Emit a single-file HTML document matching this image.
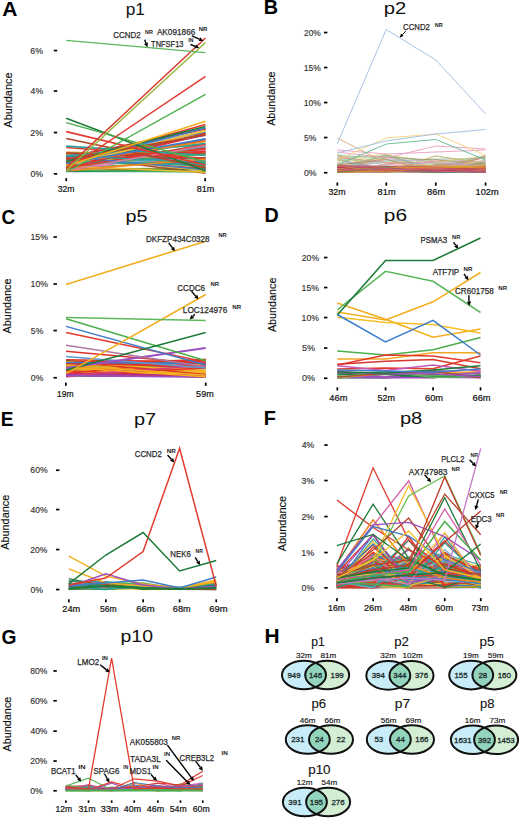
<!DOCTYPE html>
<html><head><meta charset="utf-8"><style>
html,body{margin:0;padding:0;background:#fff;width:520px;height:818px;overflow:hidden}
svg{display:block}
text{font-family:"Liberation Sans",sans-serif}
</style></head><body>
<svg width="520" height="818" viewBox="0 0 520 818" font-family="'Liberation Sans', sans-serif">
<text x="2.38" y="15.60" font-size="19.5" fill="#000" font-weight="bold" textLength="15.18" lengthAdjust="spacingAndGlyphs">A</text>
<text x="125.79" y="15.10" font-size="17.3" fill="#111" textLength="19.15" lengthAdjust="spacingAndGlyphs">p1</text>
<text x="11.76" y="127.62" font-size="11.3" fill="#111" stroke="#111" stroke-width="0.15" textLength="55.11" lengthAdjust="spacingAndGlyphs" transform="rotate(-90 11.76 127.62)">Abundance</text>
<text x="30.35" y="53.50" font-size="8.4" fill="#333" stroke="#333" stroke-width="0.15" textLength="12.76" lengthAdjust="spacingAndGlyphs">6%</text>
<rect x="53.80" y="49.70" width="3.40" height="1.70" fill="#000"/>
<text x="30.60" y="94.00" font-size="8.4" fill="#333" stroke="#333" stroke-width="0.15" textLength="12.51" lengthAdjust="spacingAndGlyphs">4%</text>
<rect x="53.80" y="90.20" width="3.40" height="1.70" fill="#000"/>
<text x="30.36" y="135.50" font-size="8.4" fill="#333" stroke="#333" stroke-width="0.15" textLength="12.76" lengthAdjust="spacingAndGlyphs">2%</text>
<rect x="53.80" y="131.70" width="3.40" height="1.70" fill="#000"/>
<text x="30.46" y="176.80" font-size="8.4" fill="#333" stroke="#333" stroke-width="0.15" textLength="12.65" lengthAdjust="spacingAndGlyphs">0%</text>
<rect x="53.80" y="173.00" width="3.40" height="1.70" fill="#000"/>
<rect x="65.40" y="178.10" width="1.70" height="3.10" fill="#000"/>
<text x="57.72" y="192.30" font-size="8.5" fill="#111" stroke="#111" stroke-width="0.2" textLength="16.80" lengthAdjust="spacingAndGlyphs">32m</text>
<rect x="204.30" y="178.10" width="1.70" height="3.10" fill="#000"/>
<text x="196.71" y="192.30" font-size="8.5" fill="#111" stroke="#111" stroke-width="0.2" textLength="17.59" lengthAdjust="spacingAndGlyphs">81m</text>
<polyline points="66.2,165.7 205.5,149.6" stroke="#e0332b" stroke-width="1.6" fill="none" stroke-linejoin="miter" stroke-opacity="0.95"/>
<polyline points="66.2,155.7 205.5,153.4" stroke="#a0522d" stroke-width="1.6" fill="none" stroke-linejoin="miter" stroke-opacity="0.95"/>
<polyline points="66.2,168.0 205.5,161.4" stroke="#2aa198" stroke-width="1.6" fill="none" stroke-linejoin="miter" stroke-opacity="0.95"/>
<polyline points="66.2,170.7 205.5,139.0" stroke="#c0392b" stroke-width="1.6" fill="none" stroke-linejoin="miter" stroke-opacity="0.95"/>
<polyline points="66.2,153.2 205.5,153.4" stroke="#e0332b" stroke-width="1.6" fill="none" stroke-linejoin="miter" stroke-opacity="0.95"/>
<polyline points="66.2,160.6 205.5,128.8" stroke="#e0332b" stroke-width="1.6" fill="none" stroke-linejoin="miter" stroke-opacity="0.95"/>
<polyline points="66.2,161.0 205.5,161.4" stroke="#c0392b" stroke-width="1.6" fill="none" stroke-linejoin="miter" stroke-opacity="0.95"/>
<polyline points="66.2,160.7 205.5,147.8" stroke="#c0392b" stroke-width="1.6" fill="none" stroke-linejoin="miter" stroke-opacity="0.95"/>
<polyline points="66.2,160.5 205.5,163.4" stroke="#e0332b" stroke-width="1.6" fill="none" stroke-linejoin="miter" stroke-opacity="0.95"/>
<polyline points="66.2,160.8 205.5,157.8" stroke="#9c4fc0" stroke-width="1.6" fill="none" stroke-linejoin="miter" stroke-opacity="0.95"/>
<polyline points="66.2,156.6 205.5,132.5" stroke="#3d7cc9" stroke-width="1.6" fill="none" stroke-linejoin="miter" stroke-opacity="0.95"/>
<polyline points="66.2,166.2 205.5,146.8" stroke="#2aa198" stroke-width="1.6" fill="none" stroke-linejoin="miter" stroke-opacity="0.95"/>
<polyline points="66.2,170.9 205.5,157.8" stroke="#f08a1c" stroke-width="1.6" fill="none" stroke-linejoin="miter" stroke-opacity="0.95"/>
<polyline points="66.2,157.5 205.5,128.6" stroke="#c0392b" stroke-width="1.6" fill="none" stroke-linejoin="miter" stroke-opacity="0.95"/>
<polyline points="66.2,161.9 205.5,164.6" stroke="#8a9a3a" stroke-width="1.6" fill="none" stroke-linejoin="miter" stroke-opacity="0.95"/>
<polyline points="66.2,152.3 205.5,154.7" stroke="#f08a1c" stroke-width="1.6" fill="none" stroke-linejoin="miter" stroke-opacity="0.95"/>
<polyline points="66.2,165.4 205.5,157.8" stroke="#e07aa8" stroke-width="1.6" fill="none" stroke-linejoin="miter" stroke-opacity="0.95"/>
<polyline points="66.2,171.2 205.5,167.3" stroke="#e0332b" stroke-width="1.6" fill="none" stroke-linejoin="miter" stroke-opacity="0.95"/>
<polyline points="66.2,171.3 205.5,149.8" stroke="#e07aa8" stroke-width="1.6" fill="none" stroke-linejoin="miter" stroke-opacity="0.95"/>
<polyline points="66.2,166.5 205.5,148.6" stroke="#e0332b" stroke-width="1.6" fill="none" stroke-linejoin="miter" stroke-opacity="0.95"/>
<polyline points="66.2,153.4 205.5,151.8" stroke="#8a9a3a" stroke-width="1.6" fill="none" stroke-linejoin="miter" stroke-opacity="0.95"/>
<polyline points="66.2,171.4 205.5,171.4" stroke="#2aa198" stroke-width="1.6" fill="none" stroke-linejoin="miter" stroke-opacity="0.95"/>
<polyline points="66.2,164.2 205.5,157.8" stroke="#1e7b3a" stroke-width="1.6" fill="none" stroke-linejoin="miter" stroke-opacity="0.95"/>
<polyline points="66.2,163.2 205.5,135.2" stroke="#9c4fc0" stroke-width="1.6" fill="none" stroke-linejoin="miter" stroke-opacity="0.95"/>
<polyline points="66.2,154.9 205.5,161.5" stroke="#3d7cc9" stroke-width="1.6" fill="none" stroke-linejoin="miter" stroke-opacity="0.95"/>
<polyline points="66.2,158.5 205.5,168.6" stroke="#e0332b" stroke-width="1.6" fill="none" stroke-linejoin="miter" stroke-opacity="0.95"/>
<polyline points="66.2,168.8 205.5,168.5" stroke="#8a9a3a" stroke-width="1.6" fill="none" stroke-linejoin="miter" stroke-opacity="0.95"/>
<polyline points="66.2,155.5 205.5,166.9" stroke="#4cae4c" stroke-width="1.6" fill="none" stroke-linejoin="miter" stroke-opacity="0.95"/>
<polyline points="66.2,163.8 205.5,154.2" stroke="#4cae4c" stroke-width="1.6" fill="none" stroke-linejoin="miter" stroke-opacity="0.95"/>
<polyline points="66.2,158.3 205.5,151.5" stroke="#e0332b" stroke-width="1.6" fill="none" stroke-linejoin="miter" stroke-opacity="0.95"/>
<polyline points="66.2,163.0 205.5,130.6" stroke="#7fb2e0" stroke-width="1.6" fill="none" stroke-linejoin="miter" stroke-opacity="0.95"/>
<polyline points="66.2,164.2 205.5,158.5" stroke="#7fb2e0" stroke-width="1.6" fill="none" stroke-linejoin="miter" stroke-opacity="0.95"/>
<polyline points="66.2,171.3 205.5,169.3" stroke="#1e7b3a" stroke-width="1.6" fill="none" stroke-linejoin="miter" stroke-opacity="0.95"/>
<polyline points="66.2,170.2 205.5,172.0" stroke="#4cae4c" stroke-width="1.6" fill="none" stroke-linejoin="miter" stroke-opacity="0.95"/>
<polyline points="66.2,161.4 205.5,151.7" stroke="#e0332b" stroke-width="1.6" fill="none" stroke-linejoin="miter" stroke-opacity="0.95"/>
<polyline points="66.2,154.7 205.5,171.0" stroke="#f2c12e" stroke-width="1.6" fill="none" stroke-linejoin="miter" stroke-opacity="0.95"/>
<polyline points="66.2,153.1 205.5,158.8" stroke="#c0392b" stroke-width="1.6" fill="none" stroke-linejoin="miter" stroke-opacity="0.95"/>
<polyline points="66.2,147.5 205.5,158.4" stroke="#e0332b" stroke-width="1.6" fill="none" stroke-linejoin="miter" stroke-opacity="0.95"/>
<polyline points="66.2,169.5 205.5,144.4" stroke="#8a9a3a" stroke-width="1.6" fill="none" stroke-linejoin="miter" stroke-opacity="0.95"/>
<polyline points="66.2,155.6 205.5,173.3" stroke="#a0522d" stroke-width="1.6" fill="none" stroke-linejoin="miter" stroke-opacity="0.95"/>
<polyline points="66.2,165.0 205.5,133.2" stroke="#a0522d" stroke-width="1.6" fill="none" stroke-linejoin="miter" stroke-opacity="0.95"/>
<polyline points="66.2,166.3 205.5,172.3" stroke="#f2c12e" stroke-width="1.6" fill="none" stroke-linejoin="miter" stroke-opacity="0.95"/>
<polyline points="66.2,161.8 205.5,164.1" stroke="#2aa198" stroke-width="1.6" fill="none" stroke-linejoin="miter" stroke-opacity="0.95"/>
<polyline points="66.2,161.5 205.5,165.1" stroke="#2aa198" stroke-width="1.6" fill="none" stroke-linejoin="miter" stroke-opacity="0.95"/>
<polyline points="66.2,159.9 205.5,143.3" stroke="#2aa198" stroke-width="1.6" fill="none" stroke-linejoin="miter" stroke-opacity="0.95"/>
<polyline points="66.2,156.0 205.5,144.4" stroke="#2aa198" stroke-width="1.6" fill="none" stroke-linejoin="miter" stroke-opacity="0.95"/>
<polyline points="66.2,168.3 205.5,144.9" stroke="#e0332b" stroke-width="1.6" fill="none" stroke-linejoin="miter" stroke-opacity="0.95"/>
<polyline points="66.2,156.3 205.5,169.8" stroke="#3d7cc9" stroke-width="1.6" fill="none" stroke-linejoin="miter" stroke-opacity="0.95"/>
<polyline points="66.2,163.2 205.5,128.0" stroke="#3d7cc9" stroke-width="1.6" fill="none" stroke-linejoin="miter" stroke-opacity="0.95"/>
<polyline points="66.2,170.9 205.5,159.0" stroke="#f08a1c" stroke-width="1.6" fill="none" stroke-linejoin="miter" stroke-opacity="0.95"/>
<polyline points="66.2,168.2 205.5,134.1" stroke="#e0332b" stroke-width="1.6" fill="none" stroke-linejoin="miter" stroke-opacity="0.95"/>
<polyline points="66.2,162.6 205.5,140.7" stroke="#e0332b" stroke-width="1.6" fill="none" stroke-linejoin="miter" stroke-opacity="0.95"/>
<polyline points="66.2,155.5 205.5,162.7" stroke="#2aa198" stroke-width="1.6" fill="none" stroke-linejoin="miter" stroke-opacity="0.95"/>
<polyline points="66.2,162.6 205.5,141.4" stroke="#f08a1c" stroke-width="1.6" fill="none" stroke-linejoin="miter" stroke-opacity="0.95"/>
<polyline points="66.2,170.8 205.5,145.5" stroke="#e07aa8" stroke-width="1.6" fill="none" stroke-linejoin="miter" stroke-opacity="0.95"/>
<polyline points="66.2,138.5 205.5,167.6" stroke="#b5462c" stroke-width="1.7" fill="none" stroke-linejoin="miter"/>
<polyline points="66.2,146.1 205.5,155.3" stroke="#2aa198" stroke-width="1.7" fill="none" stroke-linejoin="miter"/>
<polyline points="66.2,163.5 205.5,124.5" stroke="#e0332b" stroke-width="1.7" fill="none" stroke-linejoin="miter"/>
<polyline points="66.2,161.5 205.5,126.5" stroke="#1e7b3a" stroke-width="1.7" fill="none" stroke-linejoin="miter"/>
<polyline points="66.2,165.6 205.5,130.6" stroke="#f2c12e" stroke-width="1.7" fill="none" stroke-linejoin="miter"/>
<polyline points="66.2,159.4 205.5,134.8" stroke="#b5462c" stroke-width="1.7" fill="none" stroke-linejoin="miter"/>
<polyline points="66.2,163.5 205.5,138.9" stroke="#3d7cc9" stroke-width="1.7" fill="none" stroke-linejoin="miter"/>
<polyline points="66.2,118.2 205.5,171.0" stroke="#1e7b3a" stroke-width="1.6" fill="none" stroke-linejoin="miter"/>
<polyline points="66.2,122.7 205.5,162.0" stroke="#4cae4c" stroke-width="1.4" fill="none" stroke-linejoin="miter"/>
<polyline points="66.2,131.6 205.5,165.0" stroke="#e23b2e" stroke-width="1.6" fill="none" stroke-linejoin="miter"/>
<polyline points="66.2,170.0 205.5,76.4" stroke="#e23b2e" stroke-width="1.5" fill="none" stroke-linejoin="miter"/>
<polyline points="66.2,172.0 205.5,94.3" stroke="#4cae4c" stroke-width="1.4" fill="none" stroke-linejoin="miter"/>
<polyline points="66.2,166.0 205.5,121.2" stroke="#f2ae1c" stroke-width="1.5" fill="none" stroke-linejoin="miter"/>
<polyline points="66.2,168.0 205.5,38.0" stroke="#d9372c" stroke-width="1.5" fill="none" stroke-linejoin="miter"/>
<polyline points="66.2,170.5 205.5,42.5" stroke="#9bb53a" stroke-width="1.5" fill="none" stroke-linejoin="miter"/>
<polyline points="66.2,40.4 205.5,52.6" stroke="#5cb85c" stroke-width="1.4" fill="none" stroke-linejoin="miter"/>
<text x="113.35" y="37.55" font-size="8.7" fill="#2a2a2a" stroke="#2a2a2a" stroke-width="0.25" textLength="27.30" lengthAdjust="spacingAndGlyphs">CCND2</text>
<text x="145.04" y="34.10" font-size="5.9" fill="#222" font-weight="bold" textLength="7.88" lengthAdjust="spacingAndGlyphs">NR</text>
<text x="156.88" y="35.05" font-size="8.7" fill="#2a2a2a" stroke="#2a2a2a" stroke-width="0.25" textLength="38.48" lengthAdjust="spacingAndGlyphs">AK091866</text>
<text x="198.80" y="30.80" font-size="5.9" fill="#222" font-weight="bold" textLength="8.62" lengthAdjust="spacingAndGlyphs">NR</text>
<text x="151.08" y="46.90" font-size="8.7" fill="#2a2a2a" stroke="#2a2a2a" stroke-width="0.25" textLength="32.40" lengthAdjust="spacingAndGlyphs">TNFSF13</text>
<text x="188.35" y="42.40" font-size="5.9" fill="#222" font-weight="bold" textLength="5.20" lengthAdjust="spacingAndGlyphs">IN</text>
<line x1="144.70" y1="39.80" x2="145.96" y2="43.25" stroke="#000" stroke-width="1.4"/>
<polygon points="147.40,47.20 143.99,43.97 147.93,42.53" fill="#000"/>
<line x1="191.80" y1="35.80" x2="199.46" y2="39.20" stroke="#000" stroke-width="1.4"/>
<polygon points="203.30,40.90 198.61,41.12 200.31,37.28" fill="#000"/>
<line x1="190.50" y1="44.50" x2="195.29" y2="46.37" stroke="#000" stroke-width="1.4"/>
<polygon points="199.20,47.90 194.52,48.33 196.05,44.42" fill="#000"/>
<text x="263.87" y="14.10" font-size="19.5" fill="#000" font-weight="bold" textLength="14.33" lengthAdjust="spacingAndGlyphs">B</text>
<text x="383.79" y="14.10" font-size="17.3" fill="#111" textLength="22.52" lengthAdjust="spacingAndGlyphs">p2</text>
<text x="275.46" y="125.82" font-size="11.3" fill="#111" stroke="#111" stroke-width="0.15" textLength="54.30" lengthAdjust="spacingAndGlyphs" transform="rotate(-90 275.46 125.82)">Abundance</text>
<text x="303.98" y="35.50" font-size="8.4" fill="#333" stroke="#333" stroke-width="0.15" textLength="16.82" lengthAdjust="spacingAndGlyphs">20%</text>
<rect x="324.00" y="31.70" width="3.40" height="1.70" fill="#000"/>
<text x="303.75" y="70.50" font-size="8.4" fill="#333" stroke="#333" stroke-width="0.15" textLength="17.05" lengthAdjust="spacingAndGlyphs">15%</text>
<rect x="324.00" y="66.70" width="3.40" height="1.70" fill="#000"/>
<text x="303.75" y="105.50" font-size="8.4" fill="#333" stroke="#333" stroke-width="0.15" textLength="17.05" lengthAdjust="spacingAndGlyphs">10%</text>
<rect x="324.00" y="101.70" width="3.40" height="1.70" fill="#000"/>
<text x="304.06" y="140.50" font-size="8.4" fill="#333" stroke="#333" stroke-width="0.15" textLength="12.35" lengthAdjust="spacingAndGlyphs">5%</text>
<rect x="324.00" y="136.70" width="3.40" height="1.70" fill="#000"/>
<text x="304.06" y="175.70" font-size="8.4" fill="#333" stroke="#333" stroke-width="0.15" textLength="12.55" lengthAdjust="spacingAndGlyphs">0%</text>
<rect x="324.00" y="171.90" width="3.40" height="1.70" fill="#000"/>
<rect x="336.50" y="182.50" width="1.70" height="3.20" fill="#000"/>
<text x="328.46" y="195.30" font-size="8.5" fill="#111" stroke="#111" stroke-width="0.2" textLength="17.12" lengthAdjust="spacingAndGlyphs">32m</text>
<rect x="385.45" y="182.50" width="1.70" height="3.20" fill="#000"/>
<text x="377.60" y="195.30" font-size="8.5" fill="#111" stroke="#111" stroke-width="0.2" textLength="18.01" lengthAdjust="spacingAndGlyphs">81m</text>
<rect x="434.95" y="182.50" width="1.70" height="3.20" fill="#000"/>
<text x="427.10" y="195.30" font-size="8.5" fill="#111" stroke="#111" stroke-width="0.2" textLength="18.01" lengthAdjust="spacingAndGlyphs">86m</text>
<rect x="484.70" y="182.50" width="1.70" height="3.20" fill="#000"/>
<text x="475.55" y="195.30" font-size="8.5" fill="#111" stroke="#111" stroke-width="0.2" textLength="23.01" lengthAdjust="spacingAndGlyphs">102m</text>
<polyline points="337.3,168.1 386.2,155.7 435.8,161.5 485.5,171.3" stroke="#f5c85a" stroke-width="0.8" fill="none" stroke-linejoin="miter" stroke-opacity="0.75"/>
<polyline points="337.3,172.3 386.2,164.5 435.8,167.0 485.5,163.1" stroke="#e06a6a" stroke-width="0.8" fill="none" stroke-linejoin="miter" stroke-opacity="0.75"/>
<polyline points="337.3,158.9 386.2,154.7 435.8,163.1 485.5,169.0" stroke="#c9c96a" stroke-width="0.8" fill="none" stroke-linejoin="miter" stroke-opacity="0.75"/>
<polyline points="337.3,165.4 386.2,172.3 435.8,159.6 485.5,161.4" stroke="#e98cb8" stroke-width="0.8" fill="none" stroke-linejoin="miter" stroke-opacity="0.75"/>
<polyline points="337.3,165.8 386.2,156.0 435.8,167.6 485.5,157.7" stroke="#f7b27a" stroke-width="0.8" fill="none" stroke-linejoin="miter" stroke-opacity="0.75"/>
<polyline points="337.3,172.3 386.2,170.8 435.8,166.3 485.5,160.5" stroke="#8cb4dc" stroke-width="0.8" fill="none" stroke-linejoin="miter" stroke-opacity="0.75"/>
<polyline points="337.3,170.2 386.2,167.8 435.8,171.6 485.5,156.7" stroke="#8cb4dc" stroke-width="0.8" fill="none" stroke-linejoin="miter" stroke-opacity="0.75"/>
<polyline points="337.3,157.0 386.2,162.9 435.8,159.2 485.5,166.0" stroke="#c9c96a" stroke-width="0.8" fill="none" stroke-linejoin="miter" stroke-opacity="0.75"/>
<polyline points="337.3,171.6 386.2,171.5 435.8,166.1 485.5,157.7" stroke="#a08050" stroke-width="0.8" fill="none" stroke-linejoin="miter" stroke-opacity="0.75"/>
<polyline points="337.3,171.1 386.2,172.3 435.8,159.6 485.5,171.3" stroke="#e8b0a0" stroke-width="0.8" fill="none" stroke-linejoin="miter" stroke-opacity="0.75"/>
<polyline points="337.3,163.9 386.2,171.7 435.8,172.1 485.5,162.5" stroke="#c9c96a" stroke-width="0.8" fill="none" stroke-linejoin="miter" stroke-opacity="0.75"/>
<polyline points="337.3,165.2 386.2,160.0 435.8,171.8 485.5,165.1" stroke="#f7b27a" stroke-width="0.8" fill="none" stroke-linejoin="miter" stroke-opacity="0.75"/>
<polyline points="337.3,171.1 386.2,172.2 435.8,171.9 485.5,167.2" stroke="#f08a8a" stroke-width="0.8" fill="none" stroke-linejoin="miter" stroke-opacity="0.75"/>
<polyline points="337.3,160.6 386.2,156.6 435.8,167.4 485.5,164.0" stroke="#c9c96a" stroke-width="0.8" fill="none" stroke-linejoin="miter" stroke-opacity="0.75"/>
<polyline points="337.3,164.2 386.2,171.0 435.8,170.0 485.5,166.2" stroke="#a08050" stroke-width="0.8" fill="none" stroke-linejoin="miter" stroke-opacity="0.75"/>
<polyline points="337.3,166.8 386.2,155.8 435.8,162.1 485.5,157.6" stroke="#8cc98c" stroke-width="0.8" fill="none" stroke-linejoin="miter" stroke-opacity="0.75"/>
<polyline points="337.3,156.3 386.2,157.2 435.8,170.9 485.5,167.3" stroke="#b8a0d8" stroke-width="0.8" fill="none" stroke-linejoin="miter" stroke-opacity="0.75"/>
<polyline points="337.3,171.7 386.2,167.4 435.8,172.1 485.5,170.5" stroke="#e98cb8" stroke-width="0.8" fill="none" stroke-linejoin="miter" stroke-opacity="0.75"/>
<polyline points="337.3,170.8 386.2,169.7 435.8,171.7 485.5,160.2" stroke="#d4a0c8" stroke-width="0.8" fill="none" stroke-linejoin="miter" stroke-opacity="0.75"/>
<polyline points="337.3,163.4 386.2,168.7 435.8,170.3 485.5,171.6" stroke="#e8b0a0" stroke-width="0.8" fill="none" stroke-linejoin="miter" stroke-opacity="0.75"/>
<polyline points="337.3,170.7 386.2,155.5 435.8,168.2 485.5,166.6" stroke="#6ab5a5" stroke-width="0.8" fill="none" stroke-linejoin="miter" stroke-opacity="0.75"/>
<polyline points="337.3,158.8 386.2,171.4 435.8,167.6 485.5,166.0" stroke="#8cb4dc" stroke-width="0.8" fill="none" stroke-linejoin="miter" stroke-opacity="0.75"/>
<polyline points="337.3,167.8 386.2,168.9 435.8,171.9 485.5,168.7" stroke="#8cb4dc" stroke-width="0.8" fill="none" stroke-linejoin="miter" stroke-opacity="0.75"/>
<polyline points="337.3,165.3 386.2,167.4 435.8,172.3 485.5,169.2" stroke="#e06a6a" stroke-width="0.8" fill="none" stroke-linejoin="miter" stroke-opacity="0.75"/>
<polyline points="337.3,169.8 386.2,155.3 435.8,171.8 485.5,156.5" stroke="#f7b27a" stroke-width="0.8" fill="none" stroke-linejoin="miter" stroke-opacity="0.75"/>
<polyline points="337.3,155.0 386.2,171.9 435.8,170.2 485.5,172.2" stroke="#a08050" stroke-width="0.8" fill="none" stroke-linejoin="miter" stroke-opacity="0.75"/>
<polyline points="337.3,171.2 386.2,160.7 435.8,159.1 485.5,158.3" stroke="#6ab5a5" stroke-width="0.8" fill="none" stroke-linejoin="miter" stroke-opacity="0.75"/>
<polyline points="337.3,159.1 386.2,170.3 435.8,171.5 485.5,156.4" stroke="#e06a6a" stroke-width="0.8" fill="none" stroke-linejoin="miter" stroke-opacity="0.75"/>
<polyline points="337.3,166.4 386.2,169.3 435.8,170.0 485.5,159.6" stroke="#f5c85a" stroke-width="0.8" fill="none" stroke-linejoin="miter" stroke-opacity="0.75"/>
<polyline points="337.3,167.7 386.2,172.1 435.8,155.9 485.5,163.6" stroke="#a08050" stroke-width="0.8" fill="none" stroke-linejoin="miter" stroke-opacity="0.75"/>
<polyline points="337.3,170.2 386.2,164.1 435.8,170.7 485.5,170.2" stroke="#e98cb8" stroke-width="0.8" fill="none" stroke-linejoin="miter" stroke-opacity="0.75"/>
<polyline points="337.3,167.2 386.2,169.1 435.8,165.3 485.5,156.2" stroke="#8cc98c" stroke-width="0.8" fill="none" stroke-linejoin="miter" stroke-opacity="0.75"/>
<polyline points="337.3,163.8 386.2,172.2 435.8,161.8 485.5,155.9" stroke="#f5c85a" stroke-width="0.8" fill="none" stroke-linejoin="miter" stroke-opacity="0.75"/>
<polyline points="337.3,170.2 386.2,171.2 435.8,156.1 485.5,163.7" stroke="#c9c96a" stroke-width="0.8" fill="none" stroke-linejoin="miter" stroke-opacity="0.75"/>
<polyline points="337.3,160.6 386.2,169.8 435.8,166.3 485.5,171.2" stroke="#8cb4dc" stroke-width="0.8" fill="none" stroke-linejoin="miter" stroke-opacity="0.75"/>
<polyline points="337.3,159.5 386.2,154.3 435.8,172.3 485.5,172.3" stroke="#c9c96a" stroke-width="0.8" fill="none" stroke-linejoin="miter" stroke-opacity="0.75"/>
<polyline points="337.3,165.3 386.2,171.1 435.8,166.8 485.5,156.0" stroke="#e98cb8" stroke-width="0.8" fill="none" stroke-linejoin="miter" stroke-opacity="0.75"/>
<polyline points="337.3,163.0 386.2,163.2 435.8,163.1 485.5,165.4" stroke="#b8a0d8" stroke-width="0.8" fill="none" stroke-linejoin="miter" stroke-opacity="0.75"/>
<polyline points="337.3,155.0 386.2,169.6 435.8,170.8 485.5,170.6" stroke="#f7b27a" stroke-width="0.8" fill="none" stroke-linejoin="miter" stroke-opacity="0.75"/>
<polyline points="337.3,158.8 386.2,161.9 435.8,163.5 485.5,168.1" stroke="#8cb4dc" stroke-width="0.8" fill="none" stroke-linejoin="miter" stroke-opacity="0.75"/>
<polyline points="337.3,154.7 386.2,158.7 435.8,172.3 485.5,163.8" stroke="#8cc98c" stroke-width="0.8" fill="none" stroke-linejoin="miter" stroke-opacity="0.75"/>
<polyline points="337.3,167.6 386.2,172.2 435.8,162.9 485.5,168.5" stroke="#c9c96a" stroke-width="0.8" fill="none" stroke-linejoin="miter" stroke-opacity="0.75"/>
<polyline points="337.3,162.7 386.2,169.9 435.8,170.5 485.5,169.8" stroke="#e8b0a0" stroke-width="0.8" fill="none" stroke-linejoin="miter" stroke-opacity="0.75"/>
<polyline points="337.3,171.1 386.2,170.1 435.8,172.3 485.5,168.7" stroke="#8cb4dc" stroke-width="0.8" fill="none" stroke-linejoin="miter" stroke-opacity="0.75"/>
<polyline points="337.3,154.9 386.2,165.4 435.8,170.4 485.5,155.1" stroke="#8cc98c" stroke-width="0.8" fill="none" stroke-linejoin="miter" stroke-opacity="0.75"/>
<polyline points="337.3,170.8 386.2,171.1 435.8,169.2 485.5,172.0" stroke="#8cc98c" stroke-width="0.8" fill="none" stroke-linejoin="miter" stroke-opacity="0.75"/>
<polyline points="337.3,166.3 386.2,171.0 435.8,166.3 485.5,172.3" stroke="#8cc98c" stroke-width="0.8" fill="none" stroke-linejoin="miter" stroke-opacity="0.75"/>
<polyline points="337.3,159.2 386.2,171.5 435.8,164.6 485.5,168.2" stroke="#8cc98c" stroke-width="0.8" fill="none" stroke-linejoin="miter" stroke-opacity="0.75"/>
<polyline points="337.3,169.6 386.2,170.6 435.8,164.6 485.5,165.8" stroke="#a08050" stroke-width="0.8" fill="none" stroke-linejoin="miter" stroke-opacity="0.75"/>
<polyline points="337.3,171.4 386.2,157.2 435.8,160.0 485.5,164.4" stroke="#a08050" stroke-width="0.8" fill="none" stroke-linejoin="miter" stroke-opacity="0.75"/>
<polyline points="337.3,169.3 386.2,154.6 435.8,171.5 485.5,161.5" stroke="#6ab5a5" stroke-width="0.8" fill="none" stroke-linejoin="miter" stroke-opacity="0.75"/>
<polyline points="337.3,171.5 386.2,159.0 435.8,161.7 485.5,166.1" stroke="#b8a0d8" stroke-width="0.8" fill="none" stroke-linejoin="miter" stroke-opacity="0.75"/>
<polyline points="337.3,161.3 386.2,159.3 435.8,171.6 485.5,165.9" stroke="#c9c96a" stroke-width="0.8" fill="none" stroke-linejoin="miter" stroke-opacity="0.75"/>
<polyline points="337.3,165.0 386.2,159.3 435.8,172.3 485.5,162.4" stroke="#a08050" stroke-width="0.8" fill="none" stroke-linejoin="miter" stroke-opacity="0.75"/>
<polyline points="337.3,157.2 386.2,162.5 435.8,162.2 485.5,170.6" stroke="#f08a8a" stroke-width="0.8" fill="none" stroke-linejoin="miter" stroke-opacity="0.75"/>
<polyline points="337.3,172.4 386.2,168.7 435.8,165.9 485.5,170.6" stroke="#e0a020" stroke-width="0.9" fill="none" stroke-linejoin="miter" stroke-opacity="0.8"/>
<polyline points="337.3,169.3 386.2,168.7 435.8,168.8 485.5,168.3" stroke="#e0a020" stroke-width="0.9" fill="none" stroke-linejoin="miter" stroke-opacity="0.8"/>
<polyline points="337.3,171.3 386.2,170.0 435.8,172.3 485.5,166.2" stroke="#8a6a9a" stroke-width="0.9" fill="none" stroke-linejoin="miter" stroke-opacity="0.8"/>
<polyline points="337.3,172.2 386.2,169.5 435.8,167.8 485.5,169.9" stroke="#9a8a3a" stroke-width="0.9" fill="none" stroke-linejoin="miter" stroke-opacity="0.8"/>
<polyline points="337.3,166.9 386.2,171.5 435.8,167.7 485.5,171.5" stroke="#c03040" stroke-width="0.9" fill="none" stroke-linejoin="miter" stroke-opacity="0.8"/>
<polyline points="337.3,165.8 386.2,169.8 435.8,170.6 485.5,169.9" stroke="#c03040" stroke-width="0.9" fill="none" stroke-linejoin="miter" stroke-opacity="0.8"/>
<polyline points="337.3,171.2 386.2,172.4 435.8,168.7 485.5,171.7" stroke="#4a8a6a" stroke-width="0.9" fill="none" stroke-linejoin="miter" stroke-opacity="0.8"/>
<polyline points="337.3,172.0 386.2,171.4 435.8,167.8 485.5,171.1" stroke="#4a8a6a" stroke-width="0.9" fill="none" stroke-linejoin="miter" stroke-opacity="0.8"/>
<polyline points="337.3,172.0 386.2,169.8 435.8,169.8 485.5,165.8" stroke="#9a8a3a" stroke-width="0.9" fill="none" stroke-linejoin="miter" stroke-opacity="0.8"/>
<polyline points="337.3,168.2 386.2,168.4 435.8,171.2 485.5,169.6" stroke="#e0a020" stroke-width="0.9" fill="none" stroke-linejoin="miter" stroke-opacity="0.8"/>
<polyline points="337.3,170.0 386.2,167.6 435.8,165.6 485.5,169.3" stroke="#d05080" stroke-width="0.9" fill="none" stroke-linejoin="miter" stroke-opacity="0.8"/>
<polyline points="337.3,165.8 386.2,166.1 435.8,172.5 485.5,170.0" stroke="#8a6a9a" stroke-width="0.9" fill="none" stroke-linejoin="miter" stroke-opacity="0.8"/>
<polyline points="337.3,165.8 386.2,170.1 435.8,171.3 485.5,171.6" stroke="#e07030" stroke-width="0.9" fill="none" stroke-linejoin="miter" stroke-opacity="0.8"/>
<polyline points="337.3,172.3 386.2,172.3 435.8,167.8 485.5,171.3" stroke="#e07090" stroke-width="0.9" fill="none" stroke-linejoin="miter" stroke-opacity="0.8"/>
<polyline points="337.3,172.1 386.2,167.1 435.8,169.7 485.5,166.6" stroke="#d86a8a" stroke-width="0.9" fill="none" stroke-linejoin="miter" stroke-opacity="0.8"/>
<polyline points="337.3,170.7 386.2,169.7 435.8,166.7 485.5,170.5" stroke="#a0522d" stroke-width="0.9" fill="none" stroke-linejoin="miter" stroke-opacity="0.8"/>
<polyline points="337.3,172.6 386.2,169.8 435.8,170.1 485.5,171.1" stroke="#a0522d" stroke-width="0.9" fill="none" stroke-linejoin="miter" stroke-opacity="0.8"/>
<polyline points="337.3,170.3 386.2,170.6 435.8,172.1 485.5,170.9" stroke="#e07090" stroke-width="0.9" fill="none" stroke-linejoin="miter" stroke-opacity="0.8"/>
<polyline points="337.3,167.7 386.2,167.0 435.8,172.1 485.5,166.2" stroke="#d86a8a" stroke-width="0.9" fill="none" stroke-linejoin="miter" stroke-opacity="0.8"/>
<polyline points="337.3,172.5 386.2,167.8 435.8,171.4 485.5,172.4" stroke="#b04060" stroke-width="0.9" fill="none" stroke-linejoin="miter" stroke-opacity="0.8"/>
<polyline points="337.3,165.6 386.2,169.0 435.8,170.7 485.5,170.2" stroke="#d05080" stroke-width="0.9" fill="none" stroke-linejoin="miter" stroke-opacity="0.8"/>
<polyline points="337.3,166.9 386.2,171.2 435.8,172.4 485.5,168.5" stroke="#c03040" stroke-width="0.9" fill="none" stroke-linejoin="miter" stroke-opacity="0.8"/>
<polyline points="337.3,166.1 386.2,171.4 435.8,171.3 485.5,169.6" stroke="#e07030" stroke-width="0.9" fill="none" stroke-linejoin="miter" stroke-opacity="0.8"/>
<polyline points="337.3,167.5 386.2,167.4 435.8,170.2 485.5,172.5" stroke="#c03040" stroke-width="0.9" fill="none" stroke-linejoin="miter" stroke-opacity="0.8"/>
<polyline points="337.3,170.4 386.2,166.7 435.8,169.3 485.5,171.7" stroke="#9a8a3a" stroke-width="0.9" fill="none" stroke-linejoin="miter" stroke-opacity="0.8"/>
<polyline points="337.3,172.4 386.2,167.9 435.8,170.1 485.5,167.7" stroke="#c03040" stroke-width="0.9" fill="none" stroke-linejoin="miter" stroke-opacity="0.8"/>
<polyline points="337.3,166.7 386.2,169.8 435.8,166.4 485.5,169.3" stroke="#a0522d" stroke-width="0.9" fill="none" stroke-linejoin="miter" stroke-opacity="0.8"/>
<polyline points="337.3,169.9 386.2,170.8 435.8,171.1 485.5,167.8" stroke="#c03040" stroke-width="0.9" fill="none" stroke-linejoin="miter" stroke-opacity="0.8"/>
<polyline points="337.3,171.3 386.2,168.5 435.8,171.1 485.5,169.3" stroke="#b04060" stroke-width="0.9" fill="none" stroke-linejoin="miter" stroke-opacity="0.8"/>
<polyline points="337.3,172.1 386.2,168.6 435.8,172.3 485.5,169.7" stroke="#e0a020" stroke-width="0.9" fill="none" stroke-linejoin="miter" stroke-opacity="0.8"/>
<polyline points="337.3,169.3 386.2,170.1 435.8,170.9 485.5,167.7" stroke="#b04060" stroke-width="0.9" fill="none" stroke-linejoin="miter" stroke-opacity="0.8"/>
<polyline points="337.3,172.0 386.2,171.7 435.8,172.3 485.5,170.8" stroke="#9a8a3a" stroke-width="0.9" fill="none" stroke-linejoin="miter" stroke-opacity="0.8"/>
<polyline points="337.3,171.0 386.2,170.6 435.8,167.2 485.5,171.7" stroke="#c0504d" stroke-width="0.9" fill="none" stroke-linejoin="miter" stroke-opacity="0.8"/>
<polyline points="337.3,167.7 386.2,170.3 435.8,170.3 485.5,169.5" stroke="#b04060" stroke-width="0.9" fill="none" stroke-linejoin="miter" stroke-opacity="0.8"/>
<polyline points="337.3,171.3 386.2,167.7 435.8,169.7 485.5,169.2" stroke="#e07090" stroke-width="0.9" fill="none" stroke-linejoin="miter" stroke-opacity="0.8"/>
<polyline points="337.3,172.1 386.2,169.7 435.8,168.7 485.5,166.8" stroke="#e07030" stroke-width="0.9" fill="none" stroke-linejoin="miter" stroke-opacity="0.8"/>
<polyline points="337.3,172.2 386.2,166.5 435.8,170.5 485.5,168.6" stroke="#b04060" stroke-width="0.9" fill="none" stroke-linejoin="miter" stroke-opacity="0.8"/>
<polyline points="337.3,166.0 386.2,166.9 435.8,166.7 485.5,172.5" stroke="#c0504d" stroke-width="0.9" fill="none" stroke-linejoin="miter" stroke-opacity="0.8"/>
<polyline points="337.3,170.3 386.2,167.6 435.8,167.3 485.5,165.8" stroke="#e0a020" stroke-width="0.9" fill="none" stroke-linejoin="miter" stroke-opacity="0.8"/>
<polyline points="337.3,172.6 386.2,170.5 435.8,166.2 485.5,167.1" stroke="#e0a020" stroke-width="0.9" fill="none" stroke-linejoin="miter" stroke-opacity="0.8"/>
<polyline points="337.3,165.8 386.2,171.4 435.8,172.2 485.5,171.9" stroke="#8a6a9a" stroke-width="0.9" fill="none" stroke-linejoin="miter" stroke-opacity="0.8"/>
<polyline points="337.3,165.8 386.2,172.2 435.8,167.1 485.5,168.1" stroke="#e0a020" stroke-width="0.9" fill="none" stroke-linejoin="miter" stroke-opacity="0.8"/>
<polyline points="337.3,172.3 386.2,167.5 435.8,172.6 485.5,172.1" stroke="#4a8a6a" stroke-width="0.9" fill="none" stroke-linejoin="miter" stroke-opacity="0.8"/>
<polyline points="337.3,166.3 386.2,168.6 435.8,171.1 485.5,172.1" stroke="#d05080" stroke-width="0.9" fill="none" stroke-linejoin="miter" stroke-opacity="0.8"/>
<polyline points="337.3,169.5 386.2,170.2 435.8,167.6 485.5,172.2" stroke="#d05080" stroke-width="0.9" fill="none" stroke-linejoin="miter" stroke-opacity="0.8"/>
<polyline points="337.3,152.0 386.2,158.0 435.8,146.0 485.5,149.0" stroke="#eb9cc0" stroke-width="0.9" fill="none" stroke-linejoin="miter"/>
<polyline points="337.3,150.0 386.2,154.0 435.8,152.0 485.5,150.0" stroke="#eb9cc0" stroke-width="0.9" fill="none" stroke-linejoin="miter"/>
<polyline points="337.3,138.0 386.2,163.0 435.8,166.0 485.5,165.0" stroke="#d9a37a" stroke-width="0.9" fill="none" stroke-linejoin="miter"/>
<polyline points="337.3,165.0 386.2,144.0 435.8,139.5 485.5,160.0" stroke="#6fbf9a" stroke-width="1.0" fill="none" stroke-linejoin="miter"/>
<polyline points="337.3,160.0 386.2,138.0 435.8,134.0 485.5,155.0" stroke="#f7d27a" stroke-width="0.9" fill="none" stroke-linejoin="miter"/>
<polyline points="337.3,153.0 386.2,141.0 435.8,134.0 485.5,129.5" stroke="#a8c4e4" stroke-width="1.0" fill="none" stroke-linejoin="miter"/>
<polyline points="337.3,143.7 386.2,29.5 435.8,60.0 485.5,113.8" stroke="#a9c3e3" stroke-width="1.0" fill="none" stroke-linejoin="miter"/>
<text x="403.11" y="30.05" font-size="8.7" fill="#2a2a2a" stroke="#2a2a2a" stroke-width="0.25" textLength="26.68" lengthAdjust="spacingAndGlyphs">CCND2</text>
<text x="434.83" y="26.70" font-size="5.9" fill="#222" font-weight="bold" textLength="7.98" lengthAdjust="spacingAndGlyphs">NR</text>
<line x1="405.80" y1="31.10" x2="402.26" y2="34.87" stroke="#000" stroke-width="1.0"/>
<polygon points="399.80,37.50 400.95,33.64 403.58,36.10" fill="#000"/>
<text x="1.52" y="223.60" font-size="19.5" fill="#000" font-weight="bold" textLength="13.70" lengthAdjust="spacingAndGlyphs">C</text>
<text x="125.57" y="222.20" font-size="17.3" fill="#111" textLength="22.01" lengthAdjust="spacingAndGlyphs">p5</text>
<text x="11.46" y="333.37" font-size="11.3" fill="#111" stroke="#111" stroke-width="0.15" textLength="54.80" lengthAdjust="spacingAndGlyphs" transform="rotate(-90 11.46 333.37)">Abundance</text>
<text x="30.53" y="240.00" font-size="8.4" fill="#333" stroke="#333" stroke-width="0.15" textLength="17.48" lengthAdjust="spacingAndGlyphs">15%</text>
<rect x="53.50" y="236.20" width="3.40" height="1.70" fill="#000"/>
<text x="30.53" y="287.00" font-size="8.4" fill="#333" stroke="#333" stroke-width="0.15" textLength="17.58" lengthAdjust="spacingAndGlyphs">10%</text>
<rect x="53.50" y="283.20" width="3.40" height="1.70" fill="#000"/>
<text x="30.86" y="333.50" font-size="8.4" fill="#333" stroke="#333" stroke-width="0.15" textLength="12.45" lengthAdjust="spacingAndGlyphs">5%</text>
<rect x="53.50" y="329.70" width="3.40" height="1.70" fill="#000"/>
<text x="30.86" y="380.70" font-size="8.4" fill="#333" stroke="#333" stroke-width="0.15" textLength="12.44" lengthAdjust="spacingAndGlyphs">0%</text>
<rect x="53.50" y="376.90" width="3.40" height="1.70" fill="#000"/>
<rect x="65.00" y="382.60" width="1.70" height="3.20" fill="#000"/>
<text x="57.05" y="397.00" font-size="8.5" fill="#111" stroke="#111" stroke-width="0.2" textLength="16.61" lengthAdjust="spacingAndGlyphs">19m</text>
<rect x="204.90" y="382.60" width="1.70" height="3.20" fill="#000"/>
<text x="196.14" y="397.00" font-size="8.5" fill="#111" stroke="#111" stroke-width="0.2" textLength="17.56" lengthAdjust="spacingAndGlyphs">59m</text>
<polyline points="66.0,367.6 205.7,368.4" stroke="#3d7cc9" stroke-width="1.5" fill="none" stroke-linejoin="miter"/>
<polyline points="66.0,372.2 205.7,364.1" stroke="#f2b01e" stroke-width="1.5" fill="none" stroke-linejoin="miter"/>
<polyline points="66.0,376.6 205.7,373.5" stroke="#9c4fc0" stroke-width="1.5" fill="none" stroke-linejoin="miter"/>
<polyline points="66.0,371.9 205.7,373.2" stroke="#f7c331" stroke-width="1.5" fill="none" stroke-linejoin="miter"/>
<polyline points="66.0,368.5 205.7,374.5" stroke="#f7c331" stroke-width="1.5" fill="none" stroke-linejoin="miter"/>
<polyline points="66.0,376.3 205.7,371.6" stroke="#4cae4c" stroke-width="1.5" fill="none" stroke-linejoin="miter"/>
<polyline points="66.0,371.4 205.7,377.1" stroke="#2aa198" stroke-width="1.5" fill="none" stroke-linejoin="miter"/>
<polyline points="66.0,361.4 205.7,367.1" stroke="#e0332b" stroke-width="1.5" fill="none" stroke-linejoin="miter"/>
<polyline points="66.0,372.3 205.7,366.7" stroke="#e0332b" stroke-width="1.5" fill="none" stroke-linejoin="miter"/>
<polyline points="66.0,372.8 205.7,377.0" stroke="#e0332b" stroke-width="1.5" fill="none" stroke-linejoin="miter"/>
<polyline points="66.0,364.3 205.7,372.5" stroke="#3d7cc9" stroke-width="1.5" fill="none" stroke-linejoin="miter"/>
<polyline points="66.0,373.3 205.7,363.9" stroke="#4cae4c" stroke-width="1.5" fill="none" stroke-linejoin="miter"/>
<polyline points="66.0,362.1 205.7,376.7" stroke="#3d7cc9" stroke-width="1.5" fill="none" stroke-linejoin="miter"/>
<polyline points="66.0,359.9 205.7,373.3" stroke="#f08a1c" stroke-width="1.5" fill="none" stroke-linejoin="miter"/>
<polyline points="66.0,372.7 205.7,374.7" stroke="#f08a1c" stroke-width="1.5" fill="none" stroke-linejoin="miter"/>
<polyline points="66.0,374.9 205.7,367.6" stroke="#e0332b" stroke-width="1.5" fill="none" stroke-linejoin="miter"/>
<polyline points="66.0,373.5 205.7,374.7" stroke="#9c4fc0" stroke-width="1.5" fill="none" stroke-linejoin="miter"/>
<polyline points="66.0,360.9 205.7,376.8" stroke="#d04080" stroke-width="1.5" fill="none" stroke-linejoin="miter"/>
<polyline points="66.0,374.2 205.7,371.9" stroke="#d04080" stroke-width="1.5" fill="none" stroke-linejoin="miter"/>
<polyline points="66.0,376.3 205.7,368.1" stroke="#9c4fc0" stroke-width="1.5" fill="none" stroke-linejoin="miter"/>
<polyline points="66.0,375.9 205.7,376.8" stroke="#9c4fc0" stroke-width="1.5" fill="none" stroke-linejoin="miter"/>
<polyline points="66.0,368.9 205.7,365.7" stroke="#e0332b" stroke-width="1.5" fill="none" stroke-linejoin="miter"/>
<polyline points="66.0,364.0 205.7,359.4" stroke="#f08a1c" stroke-width="1.5" fill="none" stroke-linejoin="miter"/>
<polyline points="66.0,371.0 205.7,375.2" stroke="#4cae4c" stroke-width="1.5" fill="none" stroke-linejoin="miter"/>
<polyline points="66.0,363.8 205.7,377.0" stroke="#1e7b3a" stroke-width="1.5" fill="none" stroke-linejoin="miter"/>
<polyline points="66.0,364.1 205.7,363.0" stroke="#f2b01e" stroke-width="1.5" fill="none" stroke-linejoin="miter"/>
<polyline points="66.0,369.1 205.7,376.2" stroke="#f2b01e" stroke-width="1.5" fill="none" stroke-linejoin="miter"/>
<polyline points="66.0,371.9 205.7,372.6" stroke="#f2b01e" stroke-width="1.5" fill="none" stroke-linejoin="miter"/>
<polyline points="66.0,367.0 205.7,364.8" stroke="#3d7cc9" stroke-width="1.5" fill="none" stroke-linejoin="miter"/>
<polyline points="66.0,370.6 205.7,363.4" stroke="#3d7cc9" stroke-width="1.5" fill="none" stroke-linejoin="miter"/>
<polyline points="66.0,375.2 205.7,365.9" stroke="#d04080" stroke-width="1.5" fill="none" stroke-linejoin="miter"/>
<polyline points="66.0,370.3 205.7,361.2" stroke="#f7c331" stroke-width="1.5" fill="none" stroke-linejoin="miter"/>
<polyline points="66.0,371.1 205.7,365.2" stroke="#2aa198" stroke-width="1.5" fill="none" stroke-linejoin="miter"/>
<polyline points="66.0,376.2 205.7,371.6" stroke="#4cae4c" stroke-width="1.5" fill="none" stroke-linejoin="miter"/>
<polyline points="66.0,363.4 205.7,377.0" stroke="#e0332b" stroke-width="1.5" fill="none" stroke-linejoin="miter"/>
<polyline points="66.0,368.7 205.7,363.8" stroke="#f2b01e" stroke-width="1.5" fill="none" stroke-linejoin="miter"/>
<polyline points="66.0,372.3 205.7,365.0" stroke="#e0332b" stroke-width="1.5" fill="none" stroke-linejoin="miter"/>
<polyline points="66.0,370.4 205.7,372.9" stroke="#f2b01e" stroke-width="1.5" fill="none" stroke-linejoin="miter"/>
<polyline points="66.0,372.2 205.7,365.6" stroke="#e0332b" stroke-width="1.5" fill="none" stroke-linejoin="miter"/>
<polyline points="66.0,360.7 205.7,373.5" stroke="#1e7b3a" stroke-width="1.5" fill="none" stroke-linejoin="miter"/>
<polyline points="66.0,363.6 205.7,361.3" stroke="#1e7b3a" stroke-width="1.5" fill="none" stroke-linejoin="miter"/>
<polyline points="66.0,360.3 205.7,376.7" stroke="#f08a1c" stroke-width="1.5" fill="none" stroke-linejoin="miter"/>
<polyline points="66.0,374.9 205.7,365.7" stroke="#9c4fc0" stroke-width="1.5" fill="none" stroke-linejoin="miter"/>
<polyline points="66.0,360.2 205.7,372.0" stroke="#f2b01e" stroke-width="1.5" fill="none" stroke-linejoin="miter"/>
<polyline points="66.0,360.9 205.7,363.5" stroke="#f08a1c" stroke-width="1.5" fill="none" stroke-linejoin="miter"/>
<polyline points="66.0,360.6 205.7,375.3" stroke="#1e7b3a" stroke-width="1.5" fill="none" stroke-linejoin="miter"/>
<polyline points="66.0,371.5 205.7,366.2" stroke="#f5a623" stroke-width="1.5" fill="none" stroke-linejoin="miter"/>
<polyline points="66.0,366.2 205.7,373.0" stroke="#e0332b" stroke-width="1.5" fill="none" stroke-linejoin="miter"/>
<polyline points="66.0,368.7 205.7,364.2" stroke="#f2b01e" stroke-width="1.5" fill="none" stroke-linejoin="miter"/>
<polyline points="66.0,367.9 205.7,371.9" stroke="#f5a623" stroke-width="1.5" fill="none" stroke-linejoin="miter"/>
<polyline points="66.0,372.5 205.7,376.7" stroke="#f2b01e" stroke-width="1.5" fill="none" stroke-linejoin="miter"/>
<polyline points="66.0,368.4 205.7,369.1" stroke="#f5a623" stroke-width="1.5" fill="none" stroke-linejoin="miter"/>
<polyline points="66.0,359.7 205.7,362.0" stroke="#e0332b" stroke-width="1.5" fill="none" stroke-linejoin="miter"/>
<polyline points="66.0,372.2 205.7,376.5" stroke="#f2b01e" stroke-width="1.5" fill="none" stroke-linejoin="miter"/>
<polyline points="66.0,369.4 205.7,359.6" stroke="#2aa198" stroke-width="1.5" fill="none" stroke-linejoin="miter"/>
<polyline points="66.0,373.7 205.7,375.9" stroke="#9c4fc0" stroke-width="1.5" fill="none" stroke-linejoin="miter"/>
<polyline points="66.0,366.0 205.7,366.5" stroke="#4cae4c" stroke-width="1.5" fill="none" stroke-linejoin="miter"/>
<polyline points="66.0,362.0 205.7,366.7" stroke="#e0332b" stroke-width="1.5" fill="none" stroke-linejoin="miter"/>
<polyline points="66.0,363.2 205.7,373.6" stroke="#f2b01e" stroke-width="1.5" fill="none" stroke-linejoin="miter"/>
<polyline points="66.0,366.9 205.7,372.3" stroke="#f08a1c" stroke-width="1.5" fill="none" stroke-linejoin="miter"/>
<polyline points="66.0,373.3 205.7,374.3" stroke="#d04080" stroke-width="1.5" fill="none" stroke-linejoin="miter"/>
<polyline points="66.0,372.7 205.7,373.8" stroke="#f7c331" stroke-width="1.5" fill="none" stroke-linejoin="miter"/>
<polyline points="66.0,371.1 205.7,371.9" stroke="#f7c331" stroke-width="1.5" fill="none" stroke-linejoin="miter"/>
<polyline points="66.0,367.9 205.7,374.6" stroke="#f2b01e" stroke-width="1.5" fill="none" stroke-linejoin="miter"/>
<polyline points="66.0,365.4 205.7,359.6" stroke="#e0332b" stroke-width="1.5" fill="none" stroke-linejoin="miter"/>
<polyline points="66.0,376.7 205.7,362.0" stroke="#d04080" stroke-width="1.5" fill="none" stroke-linejoin="miter"/>
<polyline points="66.0,362.1 205.7,361.3" stroke="#e0332b" stroke-width="1.5" fill="none" stroke-linejoin="miter"/>
<polyline points="66.0,361.5 205.7,374.5" stroke="#e0332b" stroke-width="1.5" fill="none" stroke-linejoin="miter"/>
<polyline points="66.0,373.5 205.7,360.0" stroke="#e0332b" stroke-width="1.5" fill="none" stroke-linejoin="miter"/>
<polyline points="66.0,373.4 205.7,376.6" stroke="#e0332b" stroke-width="1.5" fill="none" stroke-linejoin="miter"/>
<polyline points="66.0,361.7 205.7,370.9" stroke="#f2b01e" stroke-width="1.5" fill="none" stroke-linejoin="miter"/>
<polyline points="66.0,363.3 205.7,366.7" stroke="#e0332b" stroke-width="1.5" fill="none" stroke-linejoin="miter"/>
<polyline points="66.0,374.9 205.7,368.1" stroke="#e0332b" stroke-width="1.5" fill="none" stroke-linejoin="miter"/>
<polyline points="66.0,370.7 205.7,377.0" stroke="#e0332b" stroke-width="1.5" fill="none" stroke-linejoin="miter"/>
<polyline points="66.0,374.3 205.7,375.0" stroke="#b03090" stroke-width="1.5" fill="none" stroke-linejoin="miter"/>
<polyline points="66.0,376.1 205.7,365.3" stroke="#d04080" stroke-width="1.5" fill="none" stroke-linejoin="miter"/>
<polyline points="66.0,362.6 205.7,363.5" stroke="#3d7cc9" stroke-width="1.5" fill="none" stroke-linejoin="miter"/>
<polyline points="66.0,365.0 205.7,375.2" stroke="#f2b01e" stroke-width="1.5" fill="none" stroke-linejoin="miter"/>
<polyline points="66.0,375.4 205.7,377.0" stroke="#9c4fc0" stroke-width="1.5" fill="none" stroke-linejoin="miter"/>
<polyline points="66.0,367.2 205.7,376.7" stroke="#f2b01e" stroke-width="1.5" fill="none" stroke-linejoin="miter"/>
<polyline points="66.0,351.3 205.7,364.0" stroke="#e0332b" stroke-width="1.5" fill="none" stroke-linejoin="miter"/>
<polyline points="66.0,356.6 205.7,368.0" stroke="#5a9bd5" stroke-width="1.5" fill="none" stroke-linejoin="miter"/>
<polyline points="66.0,368.0 205.7,348.0" stroke="#9c4fc0" stroke-width="1.9" fill="none" stroke-linejoin="miter"/>
<polyline points="66.0,345.2 205.7,366.7" stroke="#b07aa0" stroke-width="1.5" fill="none" stroke-linejoin="miter"/>
<polyline points="66.0,332.4 205.7,362.0" stroke="#e23b2e" stroke-width="1.5" fill="none" stroke-linejoin="miter"/>
<polyline points="66.0,326.4 205.7,365.0" stroke="#3d7cc9" stroke-width="1.5" fill="none" stroke-linejoin="miter"/>
<polyline points="66.0,318.8 205.7,360.7" stroke="#4cae4c" stroke-width="1.5" fill="none" stroke-linejoin="miter"/>
<polyline points="66.0,370.0 205.7,332.5" stroke="#1e7b3a" stroke-width="1.5" fill="none" stroke-linejoin="miter"/>
<polyline points="66.0,373.7 205.7,294.5" stroke="#f2ae1c" stroke-width="1.5" fill="none" stroke-linejoin="miter"/>
<polyline points="66.0,317.5 205.7,320.5" stroke="#5cb85c" stroke-width="1.5" fill="none" stroke-linejoin="miter"/>
<polyline points="66.0,284.5 205.7,241.2" stroke="#f2ae1c" stroke-width="1.6" fill="none" stroke-linejoin="miter"/>
<text x="146.04" y="242.15" font-size="8.7" fill="#2a2a2a" stroke="#2a2a2a" stroke-width="0.25" textLength="63.51" lengthAdjust="spacingAndGlyphs">DKFZP434C0328</text>
<text x="218.42" y="236.90" font-size="5.9" fill="#222" font-weight="bold" textLength="8.20" lengthAdjust="spacingAndGlyphs">NR</text>
<text x="177.29" y="290.65" font-size="8.7" fill="#2a2a2a" stroke="#2a2a2a" stroke-width="0.25" textLength="27.66" lengthAdjust="spacingAndGlyphs">CCDC6</text>
<text x="210.40" y="285.90" font-size="5.9" fill="#222" font-weight="bold" textLength="8.62" lengthAdjust="spacingAndGlyphs">NR</text>
<text x="182.82" y="312.75" font-size="8.7" fill="#2a2a2a" stroke="#2a2a2a" stroke-width="0.25" textLength="44.44" lengthAdjust="spacingAndGlyphs">LOC124976</text>
<text x="232.39" y="308.60" font-size="5.9" fill="#222" font-weight="bold" textLength="8.83" lengthAdjust="spacingAndGlyphs">NR</text>
<line x1="168.70" y1="242.90" x2="172.48" y2="247.94" stroke="#000" stroke-width="1.4"/>
<polygon points="175.00,251.30 170.80,249.20 174.16,246.68" fill="#000"/>
<line x1="191.50" y1="291.20" x2="195.75" y2="296.12" stroke="#000" stroke-width="1.4"/>
<polygon points="198.50,299.30 194.16,297.50 197.34,294.75" fill="#000"/>
<line x1="194.90" y1="314.20" x2="192.61" y2="316.57" stroke="#000" stroke-width="1.4"/>
<polygon points="189.70,319.60 191.10,315.12 194.13,318.03" fill="#000"/>
<text x="264.48" y="222.00" font-size="19.5" fill="#000" font-weight="bold" textLength="14.25" lengthAdjust="spacingAndGlyphs">D</text>
<text x="383.75" y="221.40" font-size="17.3" fill="#111" textLength="23.27" lengthAdjust="spacingAndGlyphs">p6</text>
<text x="275.66" y="332.12" font-size="11.3" fill="#111" stroke="#111" stroke-width="0.15" textLength="54.50" lengthAdjust="spacingAndGlyphs" transform="rotate(-90 275.66 332.12)">Abundance</text>
<text x="301.87" y="260.50" font-size="8.4" fill="#333" stroke="#333" stroke-width="0.15" textLength="17.14" lengthAdjust="spacingAndGlyphs">20%</text>
<rect x="324.00" y="256.70" width="3.40" height="1.70" fill="#000"/>
<text x="301.64" y="290.50" font-size="8.4" fill="#333" stroke="#333" stroke-width="0.15" textLength="17.37" lengthAdjust="spacingAndGlyphs">15%</text>
<rect x="324.00" y="286.70" width="3.40" height="1.70" fill="#000"/>
<text x="301.64" y="320.50" font-size="8.4" fill="#333" stroke="#333" stroke-width="0.15" textLength="17.37" lengthAdjust="spacingAndGlyphs">10%</text>
<rect x="324.00" y="316.70" width="3.40" height="1.70" fill="#000"/>
<text x="301.94" y="351.00" font-size="8.4" fill="#333" stroke="#333" stroke-width="0.15" textLength="13.09" lengthAdjust="spacingAndGlyphs">5%</text>
<rect x="324.00" y="347.20" width="3.40" height="1.70" fill="#000"/>
<text x="301.95" y="381.20" font-size="8.4" fill="#333" stroke="#333" stroke-width="0.15" textLength="13.08" lengthAdjust="spacingAndGlyphs">0%</text>
<rect x="324.00" y="377.40" width="3.40" height="1.70" fill="#000"/>
<rect x="336.50" y="387.30" width="1.70" height="3.20" fill="#000"/>
<text x="329.39" y="401.00" font-size="8.5" fill="#111" stroke="#111" stroke-width="0.2" textLength="18.13" lengthAdjust="spacingAndGlyphs">46m</text>
<rect x="384.70" y="387.30" width="1.70" height="3.20" fill="#000"/>
<text x="377.64" y="401.00" font-size="8.5" fill="#111" stroke="#111" stroke-width="0.2" textLength="17.45" lengthAdjust="spacingAndGlyphs">52m</text>
<rect x="432.20" y="387.30" width="1.70" height="3.20" fill="#000"/>
<text x="425.03" y="401.00" font-size="8.5" fill="#111" stroke="#111" stroke-width="0.2" textLength="18.08" lengthAdjust="spacingAndGlyphs">60m</text>
<rect x="479.70" y="387.30" width="1.70" height="3.20" fill="#000"/>
<text x="472.53" y="401.00" font-size="8.5" fill="#111" stroke="#111" stroke-width="0.2" textLength="18.08" lengthAdjust="spacingAndGlyphs">66m</text>
<polyline points="337.3,372.4 385.5,373.8 433.0,377.5 480.5,375.0" stroke="#1e7b3a" stroke-width="1.4" fill="none" stroke-linejoin="miter" stroke-opacity="0.95"/>
<polyline points="337.3,376.1 385.5,376.9 433.0,370.2 480.5,373.8" stroke="#d45aa5" stroke-width="1.4" fill="none" stroke-linejoin="miter" stroke-opacity="0.95"/>
<polyline points="337.3,370.6 385.5,376.7 433.0,374.7 480.5,376.4" stroke="#d45aa5" stroke-width="1.4" fill="none" stroke-linejoin="miter" stroke-opacity="0.95"/>
<polyline points="337.3,377.9 385.5,372.8 433.0,372.4 480.5,374.0" stroke="#9c4fc0" stroke-width="1.4" fill="none" stroke-linejoin="miter" stroke-opacity="0.95"/>
<polyline points="337.3,373.2 385.5,377.3 433.0,377.9 480.5,371.2" stroke="#d45aa5" stroke-width="1.4" fill="none" stroke-linejoin="miter" stroke-opacity="0.95"/>
<polyline points="337.3,377.7 385.5,377.7 433.0,374.6 480.5,376.3" stroke="#1e7b3a" stroke-width="1.4" fill="none" stroke-linejoin="miter" stroke-opacity="0.95"/>
<polyline points="337.3,377.6 385.5,377.8 433.0,377.6 480.5,372.3" stroke="#9c4fc0" stroke-width="1.4" fill="none" stroke-linejoin="miter" stroke-opacity="0.95"/>
<polyline points="337.3,377.7 385.5,374.2 433.0,376.3 480.5,375.3" stroke="#5bb85a" stroke-width="1.4" fill="none" stroke-linejoin="miter" stroke-opacity="0.95"/>
<polyline points="337.3,376.4 385.5,377.5 433.0,377.4 480.5,377.8" stroke="#9c4fc0" stroke-width="1.4" fill="none" stroke-linejoin="miter" stroke-opacity="0.95"/>
<polyline points="337.3,375.4 385.5,372.4 433.0,370.5 480.5,377.3" stroke="#5bb85a" stroke-width="1.4" fill="none" stroke-linejoin="miter" stroke-opacity="0.95"/>
<polyline points="337.3,372.0 385.5,377.8 433.0,371.1 480.5,376.7" stroke="#9c4fc0" stroke-width="1.4" fill="none" stroke-linejoin="miter" stroke-opacity="0.95"/>
<polyline points="337.3,377.7 385.5,373.3 433.0,373.6 480.5,371.4" stroke="#f2ae1c" stroke-width="1.4" fill="none" stroke-linejoin="miter" stroke-opacity="0.95"/>
<polyline points="337.3,374.2 385.5,374.3 433.0,377.3 480.5,375.5" stroke="#1e7b3a" stroke-width="1.4" fill="none" stroke-linejoin="miter" stroke-opacity="0.95"/>
<polyline points="337.3,377.8 385.5,370.8 433.0,377.5 480.5,376.4" stroke="#5bb85a" stroke-width="1.4" fill="none" stroke-linejoin="miter" stroke-opacity="0.95"/>
<polyline points="337.3,377.1 385.5,373.2 433.0,371.3 480.5,377.9" stroke="#b5462c" stroke-width="1.4" fill="none" stroke-linejoin="miter" stroke-opacity="0.95"/>
<polyline points="337.3,371.9 385.5,373.7 433.0,373.8 480.5,376.6" stroke="#9c4fc0" stroke-width="1.4" fill="none" stroke-linejoin="miter" stroke-opacity="0.95"/>
<polyline points="337.3,351.0 385.5,355.0 433.0,349.8 480.5,337.5" stroke="#4cae4c" stroke-width="1.5" fill="none" stroke-linejoin="miter"/>
<polyline points="337.3,359.0 385.5,359.0 433.0,352.8 480.5,352.8" stroke="#f5a623" stroke-width="1.5" fill="none" stroke-linejoin="miter"/>
<polyline points="337.3,365.0 385.5,355.0 433.0,356.0 480.5,362.7" stroke="#e23b2e" stroke-width="1.5" fill="none" stroke-linejoin="miter"/>
<polyline points="337.3,364.2 385.5,361.2 433.0,359.6 480.5,368.8" stroke="#d9372c" stroke-width="1.5" fill="none" stroke-linejoin="miter"/>
<polyline points="337.3,369.0 385.5,368.0 433.0,368.8 480.5,356.0" stroke="#e23b2e" stroke-width="1.5" fill="none" stroke-linejoin="miter"/>
<polyline points="337.3,365.8 385.5,370.4 433.0,365.0 480.5,371.3" stroke="#c45ab8" stroke-width="1.5" fill="none" stroke-linejoin="miter"/>
<polyline points="337.3,372.0 385.5,373.0 433.0,370.0 480.5,365.8" stroke="#1e7b3a" stroke-width="1.5" fill="none" stroke-linejoin="miter"/>
<polyline points="337.3,370.0 385.5,371.0 433.0,372.0 480.5,369.0" stroke="#3d7cc9" stroke-width="1.5" fill="none" stroke-linejoin="miter"/>
<polyline points="337.3,303.0 385.5,319.3 433.0,337.3 480.5,329.0" stroke="#f2ae1c" stroke-width="1.5" fill="none" stroke-linejoin="miter"/>
<polyline points="337.3,317.2 385.5,322.5 433.0,324.6 480.5,333.0" stroke="#f5c02a" stroke-width="1.5" fill="none" stroke-linejoin="miter"/>
<polyline points="337.3,314.5 385.5,342.0 433.0,320.4 480.5,355.0" stroke="#3d7cc9" stroke-width="1.5" fill="none" stroke-linejoin="miter"/>
<polyline points="337.3,312.0 385.5,320.0 433.0,301.8 480.5,272.5" stroke="#f2ae1c" stroke-width="1.5" fill="none" stroke-linejoin="miter"/>
<polyline points="337.3,309.8 385.5,271.3 433.0,281.3 480.5,312.5" stroke="#5cb85c" stroke-width="1.5" fill="none" stroke-linejoin="miter"/>
<polyline points="337.3,315.0 385.5,260.5 433.0,260.5 480.5,238.0" stroke="#1e7b3a" stroke-width="1.6" fill="none" stroke-linejoin="miter"/>
<text x="420.56" y="243.05" font-size="8.7" fill="#2a2a2a" stroke="#2a2a2a" stroke-width="0.25" textLength="26.48" lengthAdjust="spacingAndGlyphs">PSMA3</text>
<text x="452.12" y="239.30" font-size="5.9" fill="#222" font-weight="bold" textLength="8.20" lengthAdjust="spacingAndGlyphs">NR</text>
<text x="432.68" y="274.65" font-size="8.7" fill="#2a2a2a" stroke="#2a2a2a" stroke-width="0.25" textLength="26.53" lengthAdjust="spacingAndGlyphs">ATF7IP</text>
<text x="463.59" y="271.40" font-size="5.9" fill="#222" font-weight="bold" textLength="8.83" lengthAdjust="spacingAndGlyphs">NR</text>
<text x="454.99" y="294.05" font-size="8.7" fill="#2a2a2a" stroke="#2a2a2a" stroke-width="0.25" textLength="38.87" lengthAdjust="spacingAndGlyphs">CR601758</text>
<text x="498.30" y="290.40" font-size="5.9" fill="#222" font-weight="bold" textLength="8.73" lengthAdjust="spacingAndGlyphs">NR</text>
<line x1="453.50" y1="242.40" x2="455.78" y2="245.44" stroke="#000" stroke-width="1.4"/>
<polygon points="458.30,248.80 454.10,246.70 457.46,244.18" fill="#000"/>
<line x1="464.00" y1="273.80" x2="466.11" y2="276.85" stroke="#000" stroke-width="1.4"/>
<polygon points="468.50,280.30 464.38,278.04 467.84,275.65" fill="#000"/>
<line x1="468.80" y1="295.30" x2="469.04" y2="301.70" stroke="#000" stroke-width="1.4"/>
<polygon points="469.20,305.90 466.94,301.78 471.14,301.62" fill="#000"/>
<text x="0.72" y="425.80" font-size="19.5" fill="#000" font-weight="bold" textLength="12.72" lengthAdjust="spacingAndGlyphs">E</text>
<text x="133.96" y="424.90" font-size="17.3" fill="#111" textLength="22.19" lengthAdjust="spacingAndGlyphs">p7</text>
<text x="8.96" y="549.72" font-size="11.3" fill="#111" stroke="#111" stroke-width="0.15" textLength="54.90" lengthAdjust="spacingAndGlyphs" transform="rotate(-90 8.96 549.72)">Abundance</text>
<text x="30.36" y="473.20" font-size="8.4" fill="#333" stroke="#333" stroke-width="0.15" textLength="17.35" lengthAdjust="spacingAndGlyphs">60%</text>
<rect x="56.00" y="469.40" width="3.40" height="1.70" fill="#000"/>
<text x="30.60" y="512.50" font-size="8.4" fill="#333" stroke="#333" stroke-width="0.15" textLength="17.10" lengthAdjust="spacingAndGlyphs">40%</text>
<rect x="56.00" y="508.70" width="3.40" height="1.70" fill="#000"/>
<text x="30.37" y="552.50" font-size="8.4" fill="#333" stroke="#333" stroke-width="0.15" textLength="17.03" lengthAdjust="spacingAndGlyphs">20%</text>
<rect x="56.00" y="548.70" width="3.40" height="1.70" fill="#000"/>
<text x="30.46" y="592.50" font-size="8.4" fill="#333" stroke="#333" stroke-width="0.15" textLength="12.55" lengthAdjust="spacingAndGlyphs">0%</text>
<rect x="56.00" y="588.70" width="3.40" height="1.70" fill="#000"/>
<rect x="68.00" y="599.30" width="1.70" height="3.00" fill="#000"/>
<text x="62.29" y="611.50" font-size="8.5" fill="#111" stroke="#111" stroke-width="0.2" textLength="17.97" lengthAdjust="spacingAndGlyphs">24m</text>
<rect x="105.00" y="599.30" width="1.70" height="3.00" fill="#000"/>
<text x="100.06" y="611.50" font-size="8.5" fill="#111" stroke="#111" stroke-width="0.2" textLength="16.71" lengthAdjust="spacingAndGlyphs">56m</text>
<rect x="142.30" y="599.30" width="1.70" height="3.00" fill="#000"/>
<text x="136.27" y="611.50" font-size="8.5" fill="#111" stroke="#111" stroke-width="0.2" textLength="18.40" lengthAdjust="spacingAndGlyphs">66m</text>
<rect x="178.80" y="599.30" width="1.70" height="3.00" fill="#000"/>
<text x="172.89" y="611.50" font-size="8.5" fill="#111" stroke="#111" stroke-width="0.2" textLength="17.77" lengthAdjust="spacingAndGlyphs">68m</text>
<rect x="215.40" y="599.30" width="1.70" height="3.00" fill="#000"/>
<text x="209.37" y="611.50" font-size="8.5" fill="#111" stroke="#111" stroke-width="0.2" textLength="18.40" lengthAdjust="spacingAndGlyphs">69m</text>
<polyline points="68.8,585.1 105.8,586.8 143.1,586.5 179.6,589.2 216.2,587.4" stroke="#f2ae1c" stroke-width="1.3" fill="none" stroke-linejoin="miter" stroke-opacity="0.95"/>
<polyline points="68.8,587.1 105.8,585.7 143.1,587.9 179.6,589.0 216.2,589.5" stroke="#2aa198" stroke-width="1.3" fill="none" stroke-linejoin="miter" stroke-opacity="0.95"/>
<polyline points="68.8,586.7 105.8,587.6 143.1,586.6 179.6,587.8 216.2,582.3" stroke="#2aa198" stroke-width="1.3" fill="none" stroke-linejoin="miter" stroke-opacity="0.95"/>
<polyline points="68.8,587.4 105.8,589.4 143.1,588.4 179.6,589.1 216.2,582.8" stroke="#8a9a3a" stroke-width="1.3" fill="none" stroke-linejoin="miter" stroke-opacity="0.95"/>
<polyline points="68.8,586.2 105.8,589.5 143.1,586.4 179.6,589.5 216.2,583.8" stroke="#8a9a3a" stroke-width="1.3" fill="none" stroke-linejoin="miter" stroke-opacity="0.95"/>
<polyline points="68.8,589.4 105.8,584.7 143.1,583.8 179.6,588.4 216.2,583.1" stroke="#e23b2e" stroke-width="1.3" fill="none" stroke-linejoin="miter" stroke-opacity="0.95"/>
<polyline points="68.8,581.2 105.8,581.6 143.1,585.5 179.6,587.8 216.2,589.0" stroke="#2aa198" stroke-width="1.3" fill="none" stroke-linejoin="miter" stroke-opacity="0.95"/>
<polyline points="68.8,588.3 105.8,584.0 143.1,584.9 179.6,588.3 216.2,584.0" stroke="#f2ae1c" stroke-width="1.3" fill="none" stroke-linejoin="miter" stroke-opacity="0.95"/>
<polyline points="68.8,589.4 105.8,588.3 143.1,585.3 179.6,589.4 216.2,581.3" stroke="#f5c02a" stroke-width="1.3" fill="none" stroke-linejoin="miter" stroke-opacity="0.95"/>
<polyline points="68.8,580.4 105.8,587.6 143.1,588.9 179.6,587.3 216.2,586.8" stroke="#f5c02a" stroke-width="1.3" fill="none" stroke-linejoin="miter" stroke-opacity="0.95"/>
<polyline points="68.8,584.9 105.8,588.9 143.1,588.3 179.6,589.4 216.2,587.6" stroke="#f5c02a" stroke-width="1.3" fill="none" stroke-linejoin="miter" stroke-opacity="0.95"/>
<polyline points="68.8,584.0 105.8,583.0 143.1,589.2 179.6,588.0 216.2,589.3" stroke="#8a9a3a" stroke-width="1.3" fill="none" stroke-linejoin="miter" stroke-opacity="0.95"/>
<polyline points="68.8,589.5 105.8,583.5 143.1,583.0 179.6,588.9 216.2,586.4" stroke="#4cae4c" stroke-width="1.3" fill="none" stroke-linejoin="miter" stroke-opacity="0.95"/>
<polyline points="68.8,588.6 105.8,586.9 143.1,584.2 179.6,588.1 216.2,587.8" stroke="#9c4fc0" stroke-width="1.3" fill="none" stroke-linejoin="miter" stroke-opacity="0.95"/>
<polyline points="68.8,578.7 105.8,586.5 143.1,588.4 179.6,588.0 216.2,587.2" stroke="#1e7b3a" stroke-width="1.3" fill="none" stroke-linejoin="miter" stroke-opacity="0.95"/>
<polyline points="68.8,584.9 105.8,582.1 143.1,588.7 179.6,588.8 216.2,588.3" stroke="#3d7cc9" stroke-width="1.3" fill="none" stroke-linejoin="miter" stroke-opacity="0.95"/>
<polyline points="68.8,583.2 105.8,584.8 143.1,589.0 179.6,589.2 216.2,585.2" stroke="#d45aa5" stroke-width="1.3" fill="none" stroke-linejoin="miter" stroke-opacity="0.95"/>
<polyline points="68.8,586.2 105.8,583.0 143.1,589.3 179.6,589.3 216.2,584.9" stroke="#e23b2e" stroke-width="1.3" fill="none" stroke-linejoin="miter" stroke-opacity="0.95"/>
<polyline points="68.8,589.4 105.8,586.6 143.1,588.7 179.6,588.8 216.2,586.3" stroke="#d45aa5" stroke-width="1.3" fill="none" stroke-linejoin="miter" stroke-opacity="0.95"/>
<polyline points="68.8,585.3 105.8,586.4 143.1,589.1 179.6,588.5 216.2,586.9" stroke="#5bb85a" stroke-width="1.3" fill="none" stroke-linejoin="miter" stroke-opacity="0.95"/>
<polyline points="68.8,589.5 105.8,584.2 143.1,585.8 179.6,588.9 216.2,589.4" stroke="#5bb85a" stroke-width="1.3" fill="none" stroke-linejoin="miter" stroke-opacity="0.95"/>
<polyline points="68.8,581.0 105.8,584.4 143.1,588.1 179.6,589.3 216.2,589.5" stroke="#b5462c" stroke-width="1.3" fill="none" stroke-linejoin="miter" stroke-opacity="0.95"/>
<polyline points="68.8,580.6 105.8,586.4 143.1,586.9 179.6,588.5 216.2,586.5" stroke="#2aa198" stroke-width="1.3" fill="none" stroke-linejoin="miter" stroke-opacity="0.95"/>
<polyline points="68.8,588.6 105.8,582.9 143.1,589.5 179.6,588.7 216.2,587.5" stroke="#f2ae1c" stroke-width="1.3" fill="none" stroke-linejoin="miter" stroke-opacity="0.95"/>
<polyline points="68.8,589.1 105.8,582.8 143.1,589.4 179.6,588.5 216.2,584.8" stroke="#1e7b3a" stroke-width="1.3" fill="none" stroke-linejoin="miter" stroke-opacity="0.95"/>
<polyline points="68.8,589.2 105.8,589.1 143.1,586.7 179.6,588.8 216.2,585.0" stroke="#1e7b3a" stroke-width="1.3" fill="none" stroke-linejoin="miter" stroke-opacity="0.95"/>
<polyline points="68.8,586.3 105.8,589.4 143.1,586.5 179.6,587.1 216.2,583.9" stroke="#2aa198" stroke-width="1.3" fill="none" stroke-linejoin="miter" stroke-opacity="0.95"/>
<polyline points="68.8,583.5 105.8,589.5 143.1,584.4 179.6,588.1 216.2,587.0" stroke="#2aa198" stroke-width="1.3" fill="none" stroke-linejoin="miter" stroke-opacity="0.95"/>
<polyline points="68.8,568.8 105.8,583.0 143.1,586.0 179.6,588.0 216.2,580.0" stroke="#f2ae1c" stroke-width="1.4" fill="none" stroke-linejoin="miter"/>
<polyline points="68.8,556.2 105.8,576.2 143.1,584.0 179.6,588.0 216.2,582.0" stroke="#f2ae1c" stroke-width="1.4" fill="none" stroke-linejoin="miter"/>
<polyline points="68.8,587.0 105.8,573.8 143.1,585.0 179.6,589.0 216.2,586.0" stroke="#9c4fc0" stroke-width="1.4" fill="none" stroke-linejoin="miter"/>
<polyline points="68.8,586.0 105.8,583.0 143.1,580.0 179.6,588.0 216.2,577.0" stroke="#3d7cc9" stroke-width="1.4" fill="none" stroke-linejoin="miter"/>
<polyline points="68.8,588.0 105.8,586.0 143.1,588.0 179.6,589.0 216.2,588.0" stroke="#1e7b3a" stroke-width="2.0" fill="none" stroke-linejoin="miter"/>
<polyline points="68.8,585.0 105.8,578.0 143.1,551.5 179.6,448.3 216.2,586.0" stroke="#e23b2e" stroke-width="1.5" fill="none" stroke-linejoin="miter"/>
<polyline points="68.8,583.8 105.8,555.0 143.1,532.5 179.6,571.0 216.2,560.5" stroke="#1e7b3a" stroke-width="1.5" fill="none" stroke-linejoin="miter"/>
<text x="134.80" y="457.35" font-size="8.7" fill="#2a2a2a" stroke="#2a2a2a" stroke-width="0.25" textLength="26.99" lengthAdjust="spacingAndGlyphs">CCND2</text>
<text x="166.68" y="452.70" font-size="5.9" fill="#222" font-weight="bold" textLength="9.05" lengthAdjust="spacingAndGlyphs">NR</text>
<text x="170.36" y="556.95" font-size="8.7" fill="#2a2a2a" stroke="#2a2a2a" stroke-width="0.25" textLength="20.38" lengthAdjust="spacingAndGlyphs">NEK6</text>
<text x="195.56" y="552.60" font-size="5.9" fill="#222" font-weight="bold" textLength="7.34" lengthAdjust="spacingAndGlyphs">NR</text>
<line x1="167.50" y1="455.00" x2="171.56" y2="459.41" stroke="#000" stroke-width="1.4"/>
<polygon points="174.40,462.50 170.01,460.83 173.10,457.99" fill="#000"/>
<line x1="195.20" y1="557.50" x2="197.89" y2="561.59" stroke="#000" stroke-width="1.4"/>
<polygon points="200.20,565.10 196.14,562.75 199.65,560.44" fill="#000"/>
<text x="263.87" y="424.60" font-size="19.5" fill="#000" font-weight="bold" textLength="12.16" lengthAdjust="spacingAndGlyphs">F</text>
<text x="399.90" y="423.60" font-size="17.3" fill="#111" textLength="22.37" lengthAdjust="spacingAndGlyphs">p8</text>
<text x="286.46" y="551.32" font-size="11.3" fill="#111" stroke="#111" stroke-width="0.15" textLength="55.51" lengthAdjust="spacingAndGlyphs" transform="rotate(-90 286.46 551.32)">Abundance</text>
<text x="301.70" y="448.00" font-size="8.4" fill="#333" stroke="#333" stroke-width="0.15" textLength="12.61" lengthAdjust="spacingAndGlyphs">4%</text>
<rect x="324.30" y="444.20" width="3.40" height="1.70" fill="#000"/>
<text x="301.57" y="483.50" font-size="8.4" fill="#333" stroke="#333" stroke-width="0.15" textLength="12.65" lengthAdjust="spacingAndGlyphs">3%</text>
<rect x="324.30" y="479.70" width="3.40" height="1.70" fill="#000"/>
<text x="301.46" y="519.50" font-size="8.4" fill="#333" stroke="#333" stroke-width="0.15" textLength="12.76" lengthAdjust="spacingAndGlyphs">2%</text>
<rect x="324.30" y="515.70" width="3.40" height="1.70" fill="#000"/>
<text x="301.21" y="555.50" font-size="8.4" fill="#333" stroke="#333" stroke-width="0.15" textLength="13.01" lengthAdjust="spacingAndGlyphs">1%</text>
<rect x="324.30" y="551.70" width="3.40" height="1.70" fill="#000"/>
<text x="301.56" y="590.80" font-size="8.4" fill="#333" stroke="#333" stroke-width="0.15" textLength="12.65" lengthAdjust="spacingAndGlyphs">0%</text>
<rect x="324.30" y="587.00" width="3.40" height="1.70" fill="#000"/>
<rect x="336.10" y="598.10" width="1.70" height="3.10" fill="#000"/>
<text x="328.13" y="611.00" font-size="8.5" fill="#111" stroke="#111" stroke-width="0.2" textLength="17.05" lengthAdjust="spacingAndGlyphs">16m</text>
<rect x="372.30" y="598.10" width="1.70" height="3.10" fill="#000"/>
<text x="363.94" y="611.00" font-size="8.5" fill="#111" stroke="#111" stroke-width="0.2" textLength="17.87" lengthAdjust="spacingAndGlyphs">26m</text>
<rect x="407.90" y="598.10" width="1.70" height="3.10" fill="#000"/>
<text x="399.44" y="611.00" font-size="8.5" fill="#111" stroke="#111" stroke-width="0.2" textLength="17.50" lengthAdjust="spacingAndGlyphs">48m</text>
<rect x="443.90" y="598.10" width="1.70" height="3.10" fill="#000"/>
<text x="435.34" y="611.00" font-size="8.5" fill="#111" stroke="#111" stroke-width="0.2" textLength="17.66" lengthAdjust="spacingAndGlyphs">60m</text>
<rect x="479.90" y="598.10" width="1.70" height="3.10" fill="#000"/>
<text x="471.45" y="611.00" font-size="8.5" fill="#111" stroke="#111" stroke-width="0.2" textLength="17.24" lengthAdjust="spacingAndGlyphs">73m</text>
<polyline points="336.9,586.8 373.1,552.4 408.7,584.9 444.7,571.7 480.7,587.3" stroke="#f2c12e" stroke-width="1.2" fill="none" stroke-linejoin="miter" stroke-opacity="0.95"/>
<polyline points="336.9,575.3 373.1,584.5 408.7,576.7 444.7,579.8 480.7,572.7" stroke="#a0522d" stroke-width="1.2" fill="none" stroke-linejoin="miter" stroke-opacity="0.95"/>
<polyline points="336.9,565.8 373.1,583.8 408.7,559.8 444.7,558.7 480.7,587.5" stroke="#a0522d" stroke-width="1.2" fill="none" stroke-linejoin="miter" stroke-opacity="0.95"/>
<polyline points="336.9,587.8 373.1,584.6 408.7,585.4 444.7,566.9 480.7,566.9" stroke="#f08a1c" stroke-width="1.2" fill="none" stroke-linejoin="miter" stroke-opacity="0.95"/>
<polyline points="336.9,586.6 373.1,581.3 408.7,575.0 444.7,581.6 480.7,570.5" stroke="#8a9a3a" stroke-width="1.2" fill="none" stroke-linejoin="miter" stroke-opacity="0.95"/>
<polyline points="336.9,581.8 373.1,576.4 408.7,587.8 444.7,587.7 480.7,566.5" stroke="#2aa198" stroke-width="1.2" fill="none" stroke-linejoin="miter" stroke-opacity="0.95"/>
<polyline points="336.9,579.4 373.1,583.5 408.7,585.8 444.7,572.6 480.7,587.6" stroke="#1e7b3a" stroke-width="1.2" fill="none" stroke-linejoin="miter" stroke-opacity="0.95"/>
<polyline points="336.9,587.1 373.1,587.7 408.7,587.2 444.7,556.6 480.7,584.4" stroke="#4cae4c" stroke-width="1.2" fill="none" stroke-linejoin="miter" stroke-opacity="0.95"/>
<polyline points="336.9,575.6 373.1,587.7 408.7,586.9 444.7,571.7 480.7,587.7" stroke="#e0332b" stroke-width="1.2" fill="none" stroke-linejoin="miter" stroke-opacity="0.95"/>
<polyline points="336.9,574.4 373.1,587.5 408.7,575.4 444.7,582.0 480.7,571.7" stroke="#e0332b" stroke-width="1.2" fill="none" stroke-linejoin="miter" stroke-opacity="0.95"/>
<polyline points="336.9,569.4 373.1,566.3 408.7,570.4 444.7,581.4 480.7,585.9" stroke="#2aa198" stroke-width="1.2" fill="none" stroke-linejoin="miter" stroke-opacity="0.95"/>
<polyline points="336.9,587.4 373.1,587.7 408.7,564.0 444.7,563.3 480.7,577.6" stroke="#f2c12e" stroke-width="1.2" fill="none" stroke-linejoin="miter" stroke-opacity="0.95"/>
<polyline points="336.9,581.7 373.1,586.9 408.7,566.7 444.7,571.6 480.7,585.2" stroke="#f08a1c" stroke-width="1.2" fill="none" stroke-linejoin="miter" stroke-opacity="0.95"/>
<polyline points="336.9,582.9 373.1,587.8 408.7,585.0 444.7,584.1 480.7,575.1" stroke="#3d7cc9" stroke-width="1.2" fill="none" stroke-linejoin="miter" stroke-opacity="0.95"/>
<polyline points="336.9,568.3 373.1,565.6 408.7,574.9 444.7,578.4 480.7,585.3" stroke="#e0332b" stroke-width="1.2" fill="none" stroke-linejoin="miter" stroke-opacity="0.95"/>
<polyline points="336.9,572.7 373.1,587.7 408.7,578.0 444.7,587.3 480.7,581.9" stroke="#e0332b" stroke-width="1.2" fill="none" stroke-linejoin="miter" stroke-opacity="0.95"/>
<polyline points="336.9,580.2 373.1,585.5 408.7,563.3 444.7,587.3 480.7,571.6" stroke="#1e7b3a" stroke-width="1.2" fill="none" stroke-linejoin="miter" stroke-opacity="0.95"/>
<polyline points="336.9,582.6 373.1,576.7 408.7,584.4 444.7,566.6 480.7,587.7" stroke="#3d7cc9" stroke-width="1.2" fill="none" stroke-linejoin="miter" stroke-opacity="0.95"/>
<polyline points="336.9,581.4 373.1,577.9 408.7,566.5 444.7,586.1 480.7,581.3" stroke="#3d7cc9" stroke-width="1.2" fill="none" stroke-linejoin="miter" stroke-opacity="0.95"/>
<polyline points="336.9,566.4 373.1,577.0 408.7,575.9 444.7,586.5 480.7,571.8" stroke="#2aa198" stroke-width="1.2" fill="none" stroke-linejoin="miter" stroke-opacity="0.95"/>
<polyline points="336.9,581.2 373.1,587.1 408.7,573.6 444.7,587.4 480.7,572.7" stroke="#c0392b" stroke-width="1.2" fill="none" stroke-linejoin="miter" stroke-opacity="0.95"/>
<polyline points="336.9,577.8 373.1,582.3 408.7,581.6 444.7,581.1 480.7,569.0" stroke="#e0332b" stroke-width="1.2" fill="none" stroke-linejoin="miter" stroke-opacity="0.95"/>
<polyline points="336.9,582.9 373.1,571.6 408.7,582.4 444.7,583.6 480.7,582.8" stroke="#a0522d" stroke-width="1.2" fill="none" stroke-linejoin="miter" stroke-opacity="0.95"/>
<polyline points="336.9,586.8 373.1,553.3 408.7,573.8 444.7,555.7 480.7,587.2" stroke="#e0332b" stroke-width="1.2" fill="none" stroke-linejoin="miter" stroke-opacity="0.95"/>
<polyline points="336.9,584.3 373.1,583.0 408.7,586.7 444.7,561.6 480.7,576.8" stroke="#f08a1c" stroke-width="1.2" fill="none" stroke-linejoin="miter" stroke-opacity="0.95"/>
<polyline points="336.9,586.9 373.1,579.7 408.7,567.6 444.7,574.5 480.7,587.2" stroke="#e07aa8" stroke-width="1.2" fill="none" stroke-linejoin="miter" stroke-opacity="0.95"/>
<polyline points="336.9,577.4 373.1,569.2 408.7,578.3 444.7,584.5 480.7,573.9" stroke="#4cae4c" stroke-width="1.2" fill="none" stroke-linejoin="miter" stroke-opacity="0.95"/>
<polyline points="336.9,574.9 373.1,553.8 408.7,569.9 444.7,573.5 480.7,584.3" stroke="#2aa198" stroke-width="1.2" fill="none" stroke-linejoin="miter" stroke-opacity="0.95"/>
<polyline points="336.9,584.7 373.1,586.0 408.7,557.2 444.7,567.7 480.7,587.4" stroke="#c0392b" stroke-width="1.2" fill="none" stroke-linejoin="miter" stroke-opacity="0.95"/>
<polyline points="336.9,586.6 373.1,586.6 408.7,586.8 444.7,583.7 480.7,585.2" stroke="#f2c12e" stroke-width="1.2" fill="none" stroke-linejoin="miter" stroke-opacity="0.95"/>
<polyline points="336.9,586.6 373.1,571.9 408.7,587.2 444.7,585.7 480.7,583.6" stroke="#e0332b" stroke-width="1.2" fill="none" stroke-linejoin="miter" stroke-opacity="0.95"/>
<polyline points="336.9,587.8 373.1,561.0 408.7,580.6 444.7,585.4 480.7,565.5" stroke="#f2c12e" stroke-width="1.2" fill="none" stroke-linejoin="miter" stroke-opacity="0.95"/>
<polyline points="336.9,582.0 373.1,586.7 408.7,574.9 444.7,580.8 480.7,574.3" stroke="#9c4fc0" stroke-width="1.2" fill="none" stroke-linejoin="miter" stroke-opacity="0.95"/>
<polyline points="336.9,575.6 373.1,574.1 408.7,573.2 444.7,561.5 480.7,576.6" stroke="#2aa198" stroke-width="1.2" fill="none" stroke-linejoin="miter" stroke-opacity="0.95"/>
<polyline points="336.9,576.3 373.1,571.8 408.7,580.1 444.7,583.4 480.7,577.8" stroke="#c0392b" stroke-width="1.2" fill="none" stroke-linejoin="miter" stroke-opacity="0.95"/>
<polyline points="336.9,568.9 373.1,585.0 408.7,581.6 444.7,568.5 480.7,587.0" stroke="#9c4fc0" stroke-width="1.2" fill="none" stroke-linejoin="miter" stroke-opacity="0.95"/>
<polyline points="336.9,581.6 373.1,587.8 408.7,563.5 444.7,576.9 480.7,576.8" stroke="#1e7b3a" stroke-width="1.2" fill="none" stroke-linejoin="miter" stroke-opacity="0.95"/>
<polyline points="336.9,568.9 373.1,583.0 408.7,587.8 444.7,562.2 480.7,568.3" stroke="#c0392b" stroke-width="1.2" fill="none" stroke-linejoin="miter" stroke-opacity="0.95"/>
<polyline points="336.9,587.7 373.1,575.9 408.7,586.6 444.7,564.9 480.7,567.1" stroke="#a0522d" stroke-width="1.2" fill="none" stroke-linejoin="miter" stroke-opacity="0.95"/>
<polyline points="336.9,584.3 373.1,561.4 408.7,580.0 444.7,585.7 480.7,581.7" stroke="#e0332b" stroke-width="1.2" fill="none" stroke-linejoin="miter" stroke-opacity="0.95"/>
<polyline points="336.9,577.5 373.1,562.4 408.7,577.9 444.7,580.6 480.7,566.8" stroke="#2aa198" stroke-width="1.2" fill="none" stroke-linejoin="miter" stroke-opacity="0.95"/>
<polyline points="336.9,565.1 373.1,586.1 408.7,578.1 444.7,556.4 480.7,574.7" stroke="#3d7cc9" stroke-width="1.2" fill="none" stroke-linejoin="miter" stroke-opacity="0.95"/>
<polyline points="336.9,577.5 373.1,584.8 408.7,582.1 444.7,587.6 480.7,587.6" stroke="#9c4fc0" stroke-width="1.2" fill="none" stroke-linejoin="miter" stroke-opacity="0.95"/>
<polyline points="336.9,577.8 373.1,570.3 408.7,575.8 444.7,587.1 480.7,585.1" stroke="#7fb2e0" stroke-width="1.2" fill="none" stroke-linejoin="miter" stroke-opacity="0.95"/>
<polyline points="336.9,567.1 373.1,576.6 408.7,585.7 444.7,563.9 480.7,583.5" stroke="#2aa198" stroke-width="1.2" fill="none" stroke-linejoin="miter" stroke-opacity="0.95"/>
<polyline points="336.9,586.9 373.1,556.6 408.7,587.5 444.7,564.1 480.7,586.6" stroke="#2aa198" stroke-width="1.2" fill="none" stroke-linejoin="miter" stroke-opacity="0.95"/>
<polyline points="336.9,571.8 373.1,586.7 408.7,572.4 444.7,562.3 480.7,572.5" stroke="#9c4fc0" stroke-width="1.2" fill="none" stroke-linejoin="miter" stroke-opacity="0.95"/>
<polyline points="336.9,581.9 373.1,583.9 408.7,576.9 444.7,587.0 480.7,571.1" stroke="#3d7cc9" stroke-width="1.2" fill="none" stroke-linejoin="miter" stroke-opacity="0.95"/>
<polyline points="336.9,572.9 373.1,585.3 408.7,570.8 444.7,569.7 480.7,565.4" stroke="#1e7b3a" stroke-width="1.2" fill="none" stroke-linejoin="miter" stroke-opacity="0.95"/>
<polyline points="336.9,581.6 373.1,563.7 408.7,566.4 444.7,582.2 480.7,577.0" stroke="#f08a1c" stroke-width="1.2" fill="none" stroke-linejoin="miter" stroke-opacity="0.95"/>
<polyline points="336.9,581.6 373.1,580.1 408.7,573.6 444.7,571.0 480.7,584.1" stroke="#f2c12e" stroke-width="1.2" fill="none" stroke-linejoin="miter" stroke-opacity="0.95"/>
<polyline points="336.9,570.4 373.1,587.6 408.7,565.0 444.7,558.0 480.7,572.9" stroke="#4cae4c" stroke-width="1.2" fill="none" stroke-linejoin="miter" stroke-opacity="0.95"/>
<polyline points="336.9,580.4 373.1,582.6 408.7,575.7 444.7,571.1 480.7,586.4" stroke="#e0332b" stroke-width="1.2" fill="none" stroke-linejoin="miter" stroke-opacity="0.95"/>
<polyline points="336.9,577.0 373.1,584.9 408.7,587.3 444.7,586.7 480.7,586.1" stroke="#e07aa8" stroke-width="1.2" fill="none" stroke-linejoin="miter" stroke-opacity="0.95"/>
<polyline points="336.9,584.4 373.1,586.6 408.7,561.1 444.7,564.4 480.7,586.9" stroke="#e0332b" stroke-width="1.2" fill="none" stroke-linejoin="miter" stroke-opacity="0.95"/>
<polyline points="336.9,576.6 373.1,558.7 408.7,566.9 444.7,561.9 480.7,586.6" stroke="#2aa198" stroke-width="1.2" fill="none" stroke-linejoin="miter" stroke-opacity="0.95"/>
<polyline points="336.9,580.4 373.1,567.0 408.7,580.5 444.7,559.4 480.7,579.8" stroke="#f2c12e" stroke-width="1.2" fill="none" stroke-linejoin="miter" stroke-opacity="0.95"/>
<polyline points="336.9,583.0 373.1,562.5 408.7,579.5 444.7,575.4 480.7,581.5" stroke="#4cae4c" stroke-width="1.2" fill="none" stroke-linejoin="miter" stroke-opacity="0.95"/>
<polyline points="336.9,575.6 373.1,584.9 408.7,586.6 444.7,573.6 480.7,574.5" stroke="#1e7b3a" stroke-width="1.2" fill="none" stroke-linejoin="miter" stroke-opacity="0.95"/>
<polyline points="336.9,570.9 373.1,578.7 408.7,576.4 444.7,570.7 480.7,570.9" stroke="#3d7cc9" stroke-width="1.2" fill="none" stroke-linejoin="miter" stroke-opacity="0.95"/>
<polyline points="336.9,582.8 373.1,552.2 408.7,572.0 444.7,586.2 480.7,584.1" stroke="#e0332b" stroke-width="1.2" fill="none" stroke-linejoin="miter" stroke-opacity="0.95"/>
<polyline points="336.9,587.8 373.1,587.7 408.7,569.3 444.7,552.3 480.7,572.0" stroke="#c0392b" stroke-width="1.2" fill="none" stroke-linejoin="miter" stroke-opacity="0.95"/>
<polyline points="336.9,580.9 373.1,578.1 408.7,561.4 444.7,587.7 480.7,575.0" stroke="#4cae4c" stroke-width="1.2" fill="none" stroke-linejoin="miter" stroke-opacity="0.95"/>
<polyline points="336.9,584.5 373.1,560.6 408.7,582.5 444.7,578.5 480.7,580.5" stroke="#2aa198" stroke-width="1.2" fill="none" stroke-linejoin="miter" stroke-opacity="0.95"/>
<polyline points="336.9,585.4 373.1,582.6 408.7,585.1 444.7,587.6 480.7,585.3" stroke="#3d7cc9" stroke-width="1.2" fill="none" stroke-linejoin="miter" stroke-opacity="0.95"/>
<polyline points="336.9,571.3 373.1,580.8 408.7,578.5 444.7,584.4 480.7,581.0" stroke="#2aa198" stroke-width="1.2" fill="none" stroke-linejoin="miter" stroke-opacity="0.95"/>
<polyline points="336.9,577.0 373.1,564.4 408.7,583.4 444.7,583.3 480.7,585.2" stroke="#e0332b" stroke-width="1.2" fill="none" stroke-linejoin="miter" stroke-opacity="0.95"/>
<polyline points="336.9,572.9 373.1,587.7 408.7,569.9 444.7,559.2 480.7,580.0" stroke="#e0332b" stroke-width="1.2" fill="none" stroke-linejoin="miter" stroke-opacity="0.95"/>
<polyline points="336.9,583.4 373.1,587.1 408.7,587.7 444.7,562.8 480.7,581.7" stroke="#e0332b" stroke-width="1.2" fill="none" stroke-linejoin="miter" stroke-opacity="0.95"/>
<polyline points="336.9,572.7 373.1,557.8 408.7,574.6 444.7,572.9 480.7,577.8" stroke="#e0332b" stroke-width="1.2" fill="none" stroke-linejoin="miter" stroke-opacity="0.95"/>
<polyline points="336.9,586.4 373.1,570.6 408.7,579.9 444.7,565.9 480.7,587.4" stroke="#1e7b3a" stroke-width="1.2" fill="none" stroke-linejoin="miter" stroke-opacity="0.95"/>
<polyline points="336.9,569.8 373.1,580.3 408.7,587.3 444.7,556.5 480.7,587.8" stroke="#4cae4c" stroke-width="1.2" fill="none" stroke-linejoin="miter" stroke-opacity="0.95"/>
<polyline points="336.9,572.8 373.1,575.2 408.7,585.0 444.7,583.7 480.7,582.9" stroke="#f08a1c" stroke-width="1.2" fill="none" stroke-linejoin="miter" stroke-opacity="0.95"/>
<polyline points="336.9,587.8 373.1,575.0 408.7,575.8 444.7,557.5 480.7,581.2" stroke="#a0522d" stroke-width="1.2" fill="none" stroke-linejoin="miter" stroke-opacity="0.95"/>
<polyline points="336.9,587.7 373.1,587.0 408.7,565.9 444.7,574.6 480.7,567.9" stroke="#e07aa8" stroke-width="1.2" fill="none" stroke-linejoin="miter" stroke-opacity="0.95"/>
<polyline points="336.9,587.6 373.1,570.0 408.7,575.3 444.7,552.6 480.7,576.9" stroke="#4cae4c" stroke-width="1.2" fill="none" stroke-linejoin="miter" stroke-opacity="0.95"/>
<polyline points="336.9,581.7 373.1,580.6 408.7,587.3 444.7,571.7 480.7,586.4" stroke="#4cae4c" stroke-width="1.2" fill="none" stroke-linejoin="miter" stroke-opacity="0.95"/>
<polyline points="336.9,577.8 373.1,580.1 408.7,587.8 444.7,570.5 480.7,565.2" stroke="#e0332b" stroke-width="1.2" fill="none" stroke-linejoin="miter" stroke-opacity="0.95"/>
<polyline points="336.9,586.3 373.1,587.0 408.7,579.5 444.7,584.3 480.7,579.4" stroke="#e07aa8" stroke-width="1.2" fill="none" stroke-linejoin="miter" stroke-opacity="0.95"/>
<polyline points="336.9,574.6 373.1,586.1 408.7,587.7 444.7,565.4 480.7,575.2" stroke="#4cae4c" stroke-width="1.2" fill="none" stroke-linejoin="miter" stroke-opacity="0.95"/>
<polyline points="336.9,574.7 373.1,587.4 408.7,573.9 444.7,568.6 480.7,582.1" stroke="#f2c12e" stroke-width="1.2" fill="none" stroke-linejoin="miter" stroke-opacity="0.95"/>
<polyline points="336.9,568.1 373.1,587.6 408.7,587.7 444.7,587.6 480.7,569.3" stroke="#e0332b" stroke-width="1.2" fill="none" stroke-linejoin="miter" stroke-opacity="0.95"/>
<polyline points="336.9,583.6 373.1,583.4 408.7,575.0 444.7,554.9 480.7,571.1" stroke="#e0332b" stroke-width="1.2" fill="none" stroke-linejoin="miter" stroke-opacity="0.95"/>
<polyline points="336.9,584.9 373.1,555.4 408.7,569.7 444.7,578.7 480.7,586.9" stroke="#c0392b" stroke-width="1.2" fill="none" stroke-linejoin="miter" stroke-opacity="0.95"/>
<polyline points="336.9,584.1 373.1,571.6 408.7,573.9 444.7,580.4 480.7,583.6" stroke="#e07aa8" stroke-width="1.2" fill="none" stroke-linejoin="miter" stroke-opacity="0.95"/>
<polyline points="336.9,566.9 373.1,564.8 408.7,576.3 444.7,583.9 480.7,587.7" stroke="#f08a1c" stroke-width="1.2" fill="none" stroke-linejoin="miter" stroke-opacity="0.95"/>
<polyline points="336.9,569.8 373.1,567.8 408.7,587.8 444.7,586.6 480.7,571.2" stroke="#9c4fc0" stroke-width="1.2" fill="none" stroke-linejoin="miter" stroke-opacity="0.95"/>
<polyline points="336.9,565.6 373.1,584.9 408.7,582.0 444.7,581.7 480.7,573.3" stroke="#2aa198" stroke-width="1.2" fill="none" stroke-linejoin="miter" stroke-opacity="0.95"/>
<polyline points="336.9,572.1 373.1,584.1 408.7,587.8 444.7,584.6 480.7,582.9" stroke="#e0332b" stroke-width="1.2" fill="none" stroke-linejoin="miter" stroke-opacity="0.95"/>
<polyline points="336.9,585.3 373.1,586.8 408.7,561.8 444.7,552.7 480.7,587.1" stroke="#8a9a3a" stroke-width="1.2" fill="none" stroke-linejoin="miter" stroke-opacity="0.95"/>
<polyline points="336.9,584.4 373.1,587.4 408.7,576.7 444.7,564.1 480.7,586.5" stroke="#2aa198" stroke-width="1.2" fill="none" stroke-linejoin="miter" stroke-opacity="0.95"/>
<polyline points="336.9,585.0 373.1,587.6 408.7,581.8 444.7,568.7 480.7,567.7" stroke="#e0332b" stroke-width="1.2" fill="none" stroke-linejoin="miter" stroke-opacity="0.95"/>
<polyline points="336.9,572.6 373.1,579.0 408.7,587.4 444.7,563.6 480.7,573.3" stroke="#2aa198" stroke-width="1.2" fill="none" stroke-linejoin="miter" stroke-opacity="0.95"/>
<polyline points="336.9,583.4 373.1,576.8 408.7,585.0 444.7,562.2 480.7,584.8" stroke="#a0522d" stroke-width="1.2" fill="none" stroke-linejoin="miter" stroke-opacity="0.95"/>
<polyline points="336.9,578.9 373.1,586.0 408.7,586.2 444.7,586.2 480.7,575.6" stroke="#3d7cc9" stroke-width="1.2" fill="none" stroke-linejoin="miter" stroke-opacity="0.95"/>
<polyline points="336.9,579.2 373.1,582.2 408.7,567.3 444.7,560.8 480.7,585.9" stroke="#8a9a3a" stroke-width="1.2" fill="none" stroke-linejoin="miter" stroke-opacity="0.95"/>
<polyline points="336.9,583.9 373.1,587.2 408.7,573.7 444.7,564.7 480.7,587.0" stroke="#e0332b" stroke-width="1.2" fill="none" stroke-linejoin="miter" stroke-opacity="0.95"/>
<polyline points="336.9,584.4 373.1,576.8 408.7,587.8 444.7,587.7 480.7,565.1" stroke="#8a9a3a" stroke-width="1.2" fill="none" stroke-linejoin="miter" stroke-opacity="0.95"/>
<polyline points="336.9,578.9 373.1,585.6 408.7,559.9 444.7,584.2 480.7,587.5" stroke="#e07aa8" stroke-width="1.2" fill="none" stroke-linejoin="miter" stroke-opacity="0.95"/>
<polyline points="336.9,573.4 373.1,563.0 408.7,557.8 444.7,584.8 480.7,587.7" stroke="#2aa198" stroke-width="1.2" fill="none" stroke-linejoin="miter" stroke-opacity="0.95"/>
<polyline points="336.9,564.9 373.1,581.6 408.7,587.8 444.7,587.7 480.7,583.9" stroke="#e07aa8" stroke-width="1.2" fill="none" stroke-linejoin="miter" stroke-opacity="0.95"/>
<polyline points="336.9,581.5 373.1,561.5 408.7,561.6 444.7,560.5 480.7,577.4" stroke="#c0392b" stroke-width="1.2" fill="none" stroke-linejoin="miter" stroke-opacity="0.95"/>
<polyline points="336.9,575.4 373.1,587.3 408.7,583.7 444.7,585.2 480.7,587.5" stroke="#a0522d" stroke-width="1.2" fill="none" stroke-linejoin="miter" stroke-opacity="0.95"/>
<polyline points="336.9,583.5 373.1,579.4 408.7,586.6 444.7,554.4 480.7,565.0" stroke="#2aa198" stroke-width="1.2" fill="none" stroke-linejoin="miter" stroke-opacity="0.95"/>
<polyline points="336.9,586.8 373.1,555.8 408.7,559.1 444.7,587.6 480.7,579.8" stroke="#e0332b" stroke-width="1.2" fill="none" stroke-linejoin="miter" stroke-opacity="0.95"/>
<polyline points="336.9,571.0 373.1,587.7 408.7,567.0 444.7,568.6 480.7,577.2" stroke="#8a9a3a" stroke-width="1.2" fill="none" stroke-linejoin="miter" stroke-opacity="0.95"/>
<polyline points="336.9,587.7 373.1,586.7 408.7,568.5 444.7,556.0 480.7,576.3" stroke="#f2c12e" stroke-width="1.2" fill="none" stroke-linejoin="miter" stroke-opacity="0.95"/>
<polyline points="336.9,578.9 373.1,579.6 408.7,572.9 444.7,578.6 480.7,583.9" stroke="#7fb2e0" stroke-width="1.2" fill="none" stroke-linejoin="miter" stroke-opacity="0.95"/>
<polyline points="336.9,587.3 373.1,578.3 408.7,586.5 444.7,585.1 480.7,587.1" stroke="#e0332b" stroke-width="1.2" fill="none" stroke-linejoin="miter" stroke-opacity="0.95"/>
<polyline points="336.9,581.9 373.1,557.6 408.7,566.4 444.7,586.5 480.7,571.2" stroke="#e0332b" stroke-width="1.2" fill="none" stroke-linejoin="miter" stroke-opacity="0.95"/>
<polyline points="336.9,567.3 373.1,560.3 408.7,561.9 444.7,586.8 480.7,582.4" stroke="#c0392b" stroke-width="1.2" fill="none" stroke-linejoin="miter" stroke-opacity="0.95"/>
<polyline points="336.9,567.7 373.1,581.4 408.7,587.8 444.7,587.5 480.7,565.8" stroke="#f08a1c" stroke-width="1.2" fill="none" stroke-linejoin="miter" stroke-opacity="0.95"/>
<polyline points="336.9,571.5 373.1,578.4 408.7,573.9 444.7,586.7 480.7,586.3" stroke="#e0332b" stroke-width="1.2" fill="none" stroke-linejoin="miter" stroke-opacity="0.95"/>
<polyline points="336.9,586.7 373.1,579.3 408.7,561.9 444.7,579.7 480.7,587.0" stroke="#9c4fc0" stroke-width="1.2" fill="none" stroke-linejoin="miter" stroke-opacity="0.95"/>
<polyline points="336.9,583.1 373.1,586.5 408.7,584.7 444.7,561.8 480.7,584.6" stroke="#1e7b3a" stroke-width="1.2" fill="none" stroke-linejoin="miter" stroke-opacity="0.95"/>
<polyline points="336.9,585.7 373.1,587.1 408.7,580.0 444.7,578.2 480.7,587.0" stroke="#a0522d" stroke-width="1.2" fill="none" stroke-linejoin="miter" stroke-opacity="0.95"/>
<polyline points="336.9,587.7 373.1,558.6 408.7,572.3 444.7,585.6 480.7,581.7" stroke="#f2c12e" stroke-width="1.2" fill="none" stroke-linejoin="miter" stroke-opacity="0.95"/>
<polyline points="336.9,587.3 373.1,566.3 408.7,557.4 444.7,579.9 480.7,585.7" stroke="#2aa198" stroke-width="1.2" fill="none" stroke-linejoin="miter" stroke-opacity="0.95"/>
<polyline points="336.9,567.7 373.1,587.3 408.7,584.4 444.7,558.6 480.7,587.7" stroke="#f2c12e" stroke-width="1.2" fill="none" stroke-linejoin="miter" stroke-opacity="0.95"/>
<polyline points="336.9,587.1 373.1,571.9 408.7,580.4 444.7,577.3 480.7,580.9" stroke="#e07aa8" stroke-width="1.2" fill="none" stroke-linejoin="miter" stroke-opacity="0.95"/>
<polyline points="336.9,587.8 373.1,562.2 408.7,577.7 444.7,586.1 480.7,582.6" stroke="#9c4fc0" stroke-width="1.2" fill="none" stroke-linejoin="miter" stroke-opacity="0.95"/>
<polyline points="336.9,586.3 373.1,574.8 408.7,586.9 444.7,586.2 480.7,573.3" stroke="#1e7b3a" stroke-width="1.2" fill="none" stroke-linejoin="miter" stroke-opacity="0.95"/>
<polyline points="336.9,586.6 373.1,587.4 408.7,587.4 444.7,573.2 480.7,581.3" stroke="#f2c12e" stroke-width="1.2" fill="none" stroke-linejoin="miter" stroke-opacity="0.95"/>
<polyline points="336.9,586.8 373.1,586.8 408.7,572.2 444.7,572.4 480.7,586.6" stroke="#f2c12e" stroke-width="1.2" fill="none" stroke-linejoin="miter" stroke-opacity="0.95"/>
<polyline points="336.9,586.5 373.1,587.5 408.7,569.5 444.7,580.7 480.7,574.9" stroke="#e0332b" stroke-width="1.2" fill="none" stroke-linejoin="miter" stroke-opacity="0.95"/>
<polyline points="336.9,580.7 373.1,582.5 408.7,584.5 444.7,571.9 480.7,566.9" stroke="#e0332b" stroke-width="1.2" fill="none" stroke-linejoin="miter" stroke-opacity="0.95"/>
<polyline points="336.9,587.8 373.1,557.7 408.7,579.4 444.7,560.0 480.7,585.7" stroke="#1e7b3a" stroke-width="1.2" fill="none" stroke-linejoin="miter" stroke-opacity="0.95"/>
<polyline points="336.9,579.6 373.1,553.1 408.7,587.7 444.7,569.0 480.7,579.3" stroke="#e0332b" stroke-width="1.2" fill="none" stroke-linejoin="miter" stroke-opacity="0.95"/>
<polyline points="336.9,584.2 373.1,556.4 408.7,557.5 444.7,587.5 480.7,584.2" stroke="#2aa198" stroke-width="1.2" fill="none" stroke-linejoin="miter" stroke-opacity="0.95"/>
<polyline points="336.9,571.7 373.1,560.4 408.7,583.7 444.7,568.5 480.7,583.7" stroke="#e0332b" stroke-width="1.2" fill="none" stroke-linejoin="miter" stroke-opacity="0.95"/>
<polyline points="336.9,585.3 373.1,587.2 408.7,569.6 444.7,579.5 480.7,587.8" stroke="#4cae4c" stroke-width="1.2" fill="none" stroke-linejoin="miter" stroke-opacity="0.95"/>
<polyline points="336.9,587.8 373.1,554.3 408.7,585.6 444.7,586.1 480.7,587.4" stroke="#f2c12e" stroke-width="1.2" fill="none" stroke-linejoin="miter" stroke-opacity="0.95"/>
<polyline points="336.9,579.8 373.1,555.0 408.7,587.8 444.7,556.8 480.7,574.4" stroke="#f2c12e" stroke-width="1.2" fill="none" stroke-linejoin="miter" stroke-opacity="0.95"/>
<polyline points="336.9,587.8 373.1,573.6 408.7,575.9 444.7,576.7 480.7,575.5" stroke="#c0392b" stroke-width="1.2" fill="none" stroke-linejoin="miter" stroke-opacity="0.95"/>
<polyline points="336.9,584.3 373.1,587.3 408.7,586.4 444.7,584.4 480.7,582.0" stroke="#a0522d" stroke-width="1.2" fill="none" stroke-linejoin="miter" stroke-opacity="0.95"/>
<polyline points="336.9,573.6 373.1,587.1 408.7,587.1 444.7,559.3 480.7,580.1" stroke="#2aa198" stroke-width="1.2" fill="none" stroke-linejoin="miter" stroke-opacity="0.95"/>
<polyline points="336.9,570.1 373.1,586.7 408.7,576.0 444.7,566.8 480.7,586.9" stroke="#e0332b" stroke-width="1.2" fill="none" stroke-linejoin="miter" stroke-opacity="0.95"/>
<polyline points="336.9,567.2 373.1,581.3 408.7,581.1 444.7,561.8 480.7,580.5" stroke="#7fb2e0" stroke-width="1.2" fill="none" stroke-linejoin="miter" stroke-opacity="0.95"/>
<polyline points="336.9,565.9 373.1,587.6 408.7,582.6 444.7,580.9 480.7,570.9" stroke="#9c4fc0" stroke-width="1.2" fill="none" stroke-linejoin="miter" stroke-opacity="0.95"/>
<polyline points="336.9,570.8 373.1,575.1 408.7,556.6 444.7,583.2 480.7,583.3" stroke="#e0332b" stroke-width="1.2" fill="none" stroke-linejoin="miter" stroke-opacity="0.95"/>
<polyline points="336.9,584.7 373.1,586.7 408.7,571.8 444.7,582.3 480.7,569.8" stroke="#e0332b" stroke-width="1.2" fill="none" stroke-linejoin="miter" stroke-opacity="0.95"/>
<polyline points="336.9,584.0 373.1,576.4 408.7,587.5 444.7,579.9 480.7,581.0" stroke="#e0332b" stroke-width="1.2" fill="none" stroke-linejoin="miter" stroke-opacity="0.95"/>
<polyline points="336.9,586.2 373.1,580.3 408.7,581.7 444.7,552.4 480.7,582.2" stroke="#e0332b" stroke-width="1.2" fill="none" stroke-linejoin="miter" stroke-opacity="0.95"/>
<polyline points="336.9,572.0 373.1,559.3 408.7,562.1 444.7,587.7 480.7,577.4" stroke="#f2c12e" stroke-width="1.2" fill="none" stroke-linejoin="miter" stroke-opacity="0.95"/>
<polyline points="336.9,568.0 373.1,572.6 408.7,573.9 444.7,563.6 480.7,587.7" stroke="#c0392b" stroke-width="1.2" fill="none" stroke-linejoin="miter" stroke-opacity="0.95"/>
<polyline points="336.9,585.9 373.1,576.8 408.7,580.7 444.7,555.3 480.7,585.3" stroke="#f2c12e" stroke-width="1.2" fill="none" stroke-linejoin="miter" stroke-opacity="0.95"/>
<polyline points="336.9,584.3 373.1,586.4 408.7,587.6 444.7,554.8 480.7,567.8" stroke="#f2c12e" stroke-width="1.2" fill="none" stroke-linejoin="miter" stroke-opacity="0.95"/>
<polyline points="336.9,587.5 373.1,574.0 408.7,559.6 444.7,579.7 480.7,580.9" stroke="#f2c12e" stroke-width="1.2" fill="none" stroke-linejoin="miter" stroke-opacity="0.95"/>
<polyline points="336.9,568.1 373.1,574.6 408.7,584.7 444.7,567.3 480.7,574.3" stroke="#f2c12e" stroke-width="1.2" fill="none" stroke-linejoin="miter" stroke-opacity="0.95"/>
<polyline points="336.9,570.9 373.1,573.2 408.7,576.1 444.7,571.4 480.7,586.5" stroke="#3d7cc9" stroke-width="1.2" fill="none" stroke-linejoin="miter" stroke-opacity="0.95"/>
<polyline points="336.9,582.1 373.1,575.7 408.7,574.5 444.7,578.7 480.7,585.0" stroke="#2aa198" stroke-width="1.2" fill="none" stroke-linejoin="miter" stroke-opacity="0.95"/>
<polyline points="336.9,584.6 373.1,586.0 408.7,577.0 444.7,554.1 480.7,583.4" stroke="#3d7cc9" stroke-width="1.2" fill="none" stroke-linejoin="miter" stroke-opacity="0.95"/>
<polyline points="336.9,586.9 373.1,555.2 408.7,583.6 444.7,583.1 480.7,585.6" stroke="#2aa198" stroke-width="1.2" fill="none" stroke-linejoin="miter" stroke-opacity="0.95"/>
<polyline points="336.9,585.2 373.1,565.4 408.7,586.6 444.7,587.5 480.7,569.7" stroke="#e07aa8" stroke-width="1.2" fill="none" stroke-linejoin="miter" stroke-opacity="0.95"/>
<polyline points="336.9,576.9 373.1,576.9 408.7,564.7 444.7,582.3 480.7,573.6" stroke="#a0522d" stroke-width="1.2" fill="none" stroke-linejoin="miter" stroke-opacity="0.95"/>
<polyline points="336.9,586.2 373.1,554.8 408.7,569.2 444.7,586.6 480.7,584.5" stroke="#3d7cc9" stroke-width="1.2" fill="none" stroke-linejoin="miter" stroke-opacity="0.95"/>
<polyline points="336.9,587.1 373.1,585.8 408.7,574.6 444.7,584.3 480.7,570.9" stroke="#c0392b" stroke-width="1.2" fill="none" stroke-linejoin="miter" stroke-opacity="0.95"/>
<polyline points="336.9,574.4 373.1,566.9 408.7,568.3 444.7,578.5 480.7,572.8" stroke="#4cae4c" stroke-width="1.2" fill="none" stroke-linejoin="miter" stroke-opacity="0.95"/>
<polyline points="336.9,583.1 373.1,587.2 408.7,581.4 444.7,575.7 480.7,587.3" stroke="#7fb2e0" stroke-width="1.2" fill="none" stroke-linejoin="miter" stroke-opacity="0.95"/>
<polyline points="336.9,566.2 373.1,574.8 408.7,581.1 444.7,564.8 480.7,569.7" stroke="#c0392b" stroke-width="1.2" fill="none" stroke-linejoin="miter" stroke-opacity="0.95"/>
<polyline points="336.9,574.2 373.1,576.7 408.7,583.2 444.7,549.4 480.7,582.1" stroke="#7fb2e0" stroke-width="1.3" fill="none" stroke-linejoin="miter"/>
<polyline points="336.9,587.7 373.1,575.9 408.7,549.0 444.7,581.7 480.7,583.0" stroke="#4cae4c" stroke-width="1.3" fill="none" stroke-linejoin="miter"/>
<polyline points="336.9,578.6 373.1,578.5 408.7,586.4 444.7,537.0 480.7,582.6" stroke="#2aa198" stroke-width="1.3" fill="none" stroke-linejoin="miter"/>
<polyline points="336.9,584.5 373.1,581.0 408.7,547.9 444.7,587.6 480.7,587.0" stroke="#8a9a3a" stroke-width="1.3" fill="none" stroke-linejoin="miter"/>
<polyline points="336.9,573.1 373.1,575.4 408.7,549.7 444.7,571.8 480.7,579.5" stroke="#9c4fc0" stroke-width="1.3" fill="none" stroke-linejoin="miter"/>
<polyline points="336.9,580.4 373.1,587.1 408.7,577.0 444.7,567.3 480.7,587.6" stroke="#2aa198" stroke-width="1.3" fill="none" stroke-linejoin="miter"/>
<polyline points="336.9,581.2 373.1,562.6 408.7,577.4 444.7,572.9 480.7,585.3" stroke="#9c4fc0" stroke-width="1.3" fill="none" stroke-linejoin="miter"/>
<polyline points="336.9,581.4 373.1,575.5 408.7,573.4 444.7,540.8 480.7,576.7" stroke="#e0332b" stroke-width="1.3" fill="none" stroke-linejoin="miter"/>
<polyline points="336.9,582.0 373.1,544.3 408.7,586.6 444.7,582.8 480.7,585.0" stroke="#f2c12e" stroke-width="1.3" fill="none" stroke-linejoin="miter"/>
<polyline points="336.9,574.7 373.1,571.9 408.7,558.6 444.7,581.1 480.7,585.3" stroke="#a0522d" stroke-width="1.3" fill="none" stroke-linejoin="miter"/>
<polyline points="336.9,579.7 373.1,556.2 408.7,584.9 444.7,577.7 480.7,578.1" stroke="#e0332b" stroke-width="1.3" fill="none" stroke-linejoin="miter"/>
<polyline points="336.9,587.6 373.1,587.8 408.7,576.4 444.7,554.4 480.7,573.1" stroke="#c0392b" stroke-width="1.3" fill="none" stroke-linejoin="miter"/>
<polyline points="336.9,577.1 373.1,544.7 408.7,579.8 444.7,578.9 480.7,583.5" stroke="#a0522d" stroke-width="1.3" fill="none" stroke-linejoin="miter"/>
<polyline points="336.9,578.6 373.1,565.8 408.7,585.9 444.7,585.3 480.7,575.6" stroke="#c0392b" stroke-width="1.3" fill="none" stroke-linejoin="miter"/>
<polyline points="336.9,585.1 373.1,567.6 408.7,574.6 444.7,578.0 480.7,574.9" stroke="#e0332b" stroke-width="1.3" fill="none" stroke-linejoin="miter"/>
<polyline points="336.9,585.5 373.1,584.0 408.7,536.3 444.7,587.3 480.7,577.7" stroke="#e0332b" stroke-width="1.3" fill="none" stroke-linejoin="miter"/>
<polyline points="336.9,584.7 373.1,577.8 408.7,540.1 444.7,584.3 480.7,581.5" stroke="#e0332b" stroke-width="1.3" fill="none" stroke-linejoin="miter"/>
<polyline points="336.9,586.9 373.1,584.0 408.7,584.2 444.7,563.2 480.7,578.4" stroke="#e0332b" stroke-width="1.3" fill="none" stroke-linejoin="miter"/>
<polyline points="336.9,582.9 373.1,578.1 408.7,572.4 444.7,560.5 480.7,572.6" stroke="#7fb2e0" stroke-width="1.3" fill="none" stroke-linejoin="miter"/>
<polyline points="336.9,581.2 373.1,566.6 408.7,576.4 444.7,587.4 480.7,573.9" stroke="#1e7b3a" stroke-width="1.3" fill="none" stroke-linejoin="miter"/>
<polyline points="336.9,581.7 373.1,587.7 408.7,556.9 444.7,581.5 480.7,582.0" stroke="#7fb2e0" stroke-width="1.3" fill="none" stroke-linejoin="miter"/>
<polyline points="336.9,581.3 373.1,586.8 408.7,560.4 444.7,574.6 480.7,582.2" stroke="#2aa198" stroke-width="1.3" fill="none" stroke-linejoin="miter"/>
<polyline points="336.9,583.3 373.1,584.0 408.7,587.2 444.7,563.9 480.7,582.3" stroke="#4cae4c" stroke-width="1.3" fill="none" stroke-linejoin="miter"/>
<polyline points="336.9,584.7 373.1,538.9 408.7,575.2 444.7,578.9 480.7,580.3" stroke="#2aa198" stroke-width="1.3" fill="none" stroke-linejoin="miter"/>
<polyline points="336.9,581.9 373.1,558.4 408.7,581.3 444.7,577.7 480.7,578.5" stroke="#8a9a3a" stroke-width="1.3" fill="none" stroke-linejoin="miter"/>
<polyline points="336.9,584.2 373.1,534.8 408.7,585.7 444.7,576.5 480.7,583.6" stroke="#3d7cc9" stroke-width="1.3" fill="none" stroke-linejoin="miter"/>
<polyline points="336.9,581.3 373.1,566.4 408.7,585.8 444.7,575.8 480.7,576.9" stroke="#f2c12e" stroke-width="1.3" fill="none" stroke-linejoin="miter"/>
<polyline points="336.9,587.3 373.1,576.3 408.7,585.5 444.7,542.8 480.7,576.4" stroke="#2aa198" stroke-width="1.3" fill="none" stroke-linejoin="miter"/>
<polyline points="336.9,584.8 373.1,573.5 408.7,540.3 444.7,573.2 480.7,574.9" stroke="#2aa198" stroke-width="1.3" fill="none" stroke-linejoin="miter"/>
<polyline points="336.9,576.3 373.1,556.1 408.7,583.2 444.7,574.7 480.7,581.4" stroke="#e07aa8" stroke-width="1.3" fill="none" stroke-linejoin="miter"/>
<polyline points="336.9,572.8 373.1,534.9 408.7,581.9 444.7,575.0 480.7,576.7" stroke="#e0332b" stroke-width="1.3" fill="none" stroke-linejoin="miter"/>
<polyline points="336.9,583.8 373.1,574.2 408.7,582.2 444.7,565.5 480.7,584.9" stroke="#2aa198" stroke-width="1.3" fill="none" stroke-linejoin="miter"/>
<polyline points="336.9,581.3 373.1,541.1 408.7,580.9 444.7,575.7 480.7,585.3" stroke="#f2c12e" stroke-width="1.3" fill="none" stroke-linejoin="miter"/>
<polyline points="336.9,578.8 373.1,543.8 408.7,579.8 444.7,579.5 480.7,573.0" stroke="#3d7cc9" stroke-width="1.3" fill="none" stroke-linejoin="miter"/>
<polyline points="336.9,586.0 373.1,547.1 408.7,577.3 444.7,573.4 480.7,573.8" stroke="#e0332b" stroke-width="1.3" fill="none" stroke-linejoin="miter"/>
<polyline points="336.9,576.9 373.1,534.2 408.7,582.7 444.7,575.4 480.7,582.3" stroke="#9c4fc0" stroke-width="1.3" fill="none" stroke-linejoin="miter"/>
<polyline points="336.9,571.8 373.1,577.9 408.7,584.3 444.7,532.8 480.7,582.2" stroke="#e07aa8" stroke-width="1.3" fill="none" stroke-linejoin="miter"/>
<polyline points="336.9,576.7 373.1,576.0 408.7,567.9 444.7,577.7 480.7,580.5" stroke="#2aa198" stroke-width="1.3" fill="none" stroke-linejoin="miter"/>
<polyline points="336.9,577.0 373.1,574.2 408.7,575.3 444.7,532.7 480.7,584.8" stroke="#f2c12e" stroke-width="1.3" fill="none" stroke-linejoin="miter"/>
<polyline points="336.9,579.0 373.1,567.7 408.7,577.6 444.7,579.1 480.7,583.8" stroke="#3d7cc9" stroke-width="1.3" fill="none" stroke-linejoin="miter"/>
<polyline points="336.9,565.5 373.1,467.8 408.7,540.0 444.7,570.0 480.7,578.0" stroke="#e23b2e" stroke-width="1.3" fill="none" stroke-linejoin="miter"/>
<polyline points="336.9,500.1 373.1,527.5 408.7,550.0 444.7,565.0 480.7,575.0" stroke="#d9372c" stroke-width="1.3" fill="none" stroke-linejoin="miter"/>
<polyline points="336.9,563.8 373.1,504.1 408.7,558.6 444.7,575.0 480.7,580.0" stroke="#1e7b3a" stroke-width="1.3" fill="none" stroke-linejoin="miter"/>
<polyline points="336.9,572.0 373.1,519.7 408.7,565.0 444.7,578.0 480.7,582.0" stroke="#f08a1c" stroke-width="1.5" fill="none" stroke-linejoin="miter"/>
<polyline points="336.9,570.0 373.1,525.7 408.7,480.8 444.7,560.0 480.7,575.0" stroke="#d45aa5" stroke-width="1.3" fill="none" stroke-linejoin="miter"/>
<polyline points="336.9,575.0 373.1,560.0 408.7,485.5 444.7,555.0 480.7,578.0" stroke="#f5c02a" stroke-width="1.3" fill="none" stroke-linejoin="miter"/>
<polyline points="336.9,580.0 373.1,563.8 408.7,495.9 444.7,476.0 480.7,553.6" stroke="#6cbf52" stroke-width="1.3" fill="none" stroke-linejoin="miter"/>
<polyline points="336.9,578.0 373.1,550.0 408.7,518.0 444.7,568.0 480.7,575.0" stroke="#b5462c" stroke-width="1.3" fill="none" stroke-linejoin="miter"/>
<polyline points="336.9,570.0 373.1,524.9 408.7,522.3 444.7,536.6 480.7,560.0" stroke="#9c4fc0" stroke-width="1.3" fill="none" stroke-linejoin="miter"/>
<polyline points="336.9,572.0 373.1,526.6 408.7,536.1 444.7,560.0 480.7,572.0" stroke="#3d7cc9" stroke-width="1.3" fill="none" stroke-linejoin="miter"/>
<polyline points="336.9,545.6 373.1,534.4 408.7,560.0 444.7,575.0 480.7,580.0" stroke="#1e7b3a" stroke-width="1.3" fill="none" stroke-linejoin="miter"/>
<polyline points="336.9,578.0 373.1,570.0 408.7,565.0 444.7,477.0 480.7,555.5" stroke="#c0392b" stroke-width="1.3" fill="none" stroke-linejoin="miter"/>
<polyline points="336.9,575.0 373.1,565.0 408.7,560.0 444.7,494.0 480.7,534.7" stroke="#b5462c" stroke-width="1.3" fill="none" stroke-linejoin="miter"/>
<polyline points="336.9,578.0 373.1,572.0 408.7,568.0 444.7,497.8 480.7,570.7" stroke="#1e7b3a" stroke-width="1.3" fill="none" stroke-linejoin="miter"/>
<polyline points="336.9,580.0 373.1,575.0 408.7,570.0 444.7,509.0 480.7,565.0" stroke="#d45aa5" stroke-width="1.3" fill="none" stroke-linejoin="miter"/>
<polyline points="336.9,582.0 373.1,575.0 408.7,572.0 444.7,521.4 480.7,560.0" stroke="#4cae4c" stroke-width="1.6" fill="none" stroke-linejoin="miter"/>
<polyline points="336.9,583.0 373.1,578.0 408.7,575.0 444.7,542.0 480.7,511.0" stroke="#c0392b" stroke-width="1.3" fill="none" stroke-linejoin="miter"/>
<polyline points="336.9,584.0 373.1,580.0 408.7,578.0 444.7,580.0 480.7,448.5" stroke="#c47ac8" stroke-width="1.3" fill="none" stroke-linejoin="miter"/>
<polyline points="336.9,583.0 373.1,578.0 408.7,575.0 444.7,572.6 480.7,544.0" stroke="#1e7b3a" stroke-width="1.3" fill="none" stroke-linejoin="miter"/>
<polyline points="336.9,578.0 373.1,560.0 408.7,531.0 444.7,570.0 480.7,578.0" stroke="#f5c02a" stroke-width="1.3" fill="none" stroke-linejoin="miter"/>
<text x="441.28" y="461.55" font-size="8.7" fill="#2a2a2a" stroke="#2a2a2a" stroke-width="0.25" textLength="23.10" lengthAdjust="spacingAndGlyphs">PLCL2</text>
<text x="470.55" y="457.20" font-size="5.9" fill="#222" font-weight="bold" textLength="7.45" lengthAdjust="spacingAndGlyphs">NR</text>
<text x="408.68" y="474.55" font-size="8.7" fill="#2a2a2a" stroke="#2a2a2a" stroke-width="0.25" textLength="38.78" lengthAdjust="spacingAndGlyphs">AX747983</text>
<text x="451.52" y="470.50" font-size="5.9" fill="#222" font-weight="bold" textLength="8.30" lengthAdjust="spacingAndGlyphs">NR</text>
<text x="469.22" y="498.45" font-size="8.7" fill="#2a2a2a" stroke="#2a2a2a" stroke-width="0.25" textLength="25.20" lengthAdjust="spacingAndGlyphs">CXXC5</text>
<text x="499.63" y="494.10" font-size="5.9" fill="#222" font-weight="bold" textLength="7.98" lengthAdjust="spacingAndGlyphs">NR</text>
<text x="470.65" y="521.55" font-size="8.7" fill="#2a2a2a" stroke="#2a2a2a" stroke-width="0.25" textLength="20.99" lengthAdjust="spacingAndGlyphs">EDC3</text>
<text x="496.12" y="517.10" font-size="5.9" fill="#222" font-weight="bold" textLength="8.30" lengthAdjust="spacingAndGlyphs">NR</text>
<line x1="469.60" y1="459.70" x2="473.22" y2="463.54" stroke="#000" stroke-width="1.4"/>
<polygon points="476.10,466.60 471.69,464.98 474.75,462.10" fill="#000"/>
<line x1="424.60" y1="474.80" x2="428.33" y2="479.04" stroke="#000" stroke-width="1.4"/>
<polygon points="431.10,482.20 426.75,480.43 429.91,477.66" fill="#000"/>
<line x1="478.30" y1="499.40" x2="476.51" y2="505.95" stroke="#000" stroke-width="1.4"/>
<polygon points="475.40,510.00 474.48,505.39 478.53,506.50" fill="#000"/>
<line x1="478.30" y1="522.00" x2="477.23" y2="525.22" stroke="#000" stroke-width="1.4"/>
<polygon points="475.90,529.20 475.24,524.55 479.22,525.88" fill="#000"/>
<text x="1.51" y="643.60" font-size="19.5" fill="#000" font-weight="bold" textLength="14.98" lengthAdjust="spacingAndGlyphs">G</text>
<text x="120.55" y="641.80" font-size="17.3" fill="#111" textLength="32.41" lengthAdjust="spacingAndGlyphs">p10</text>
<text x="11.46" y="751.52" font-size="11.3" fill="#111" stroke="#111" stroke-width="0.15" textLength="54.90" lengthAdjust="spacingAndGlyphs" transform="rotate(-90 11.46 751.52)">Abundance</text>
<text x="30.23" y="673.90" font-size="8.4" fill="#333" stroke="#333" stroke-width="0.15" textLength="17.18" lengthAdjust="spacingAndGlyphs">80%</text>
<rect x="53.40" y="670.10" width="3.40" height="1.70" fill="#000"/>
<text x="30.16" y="703.75" font-size="8.4" fill="#333" stroke="#333" stroke-width="0.15" textLength="17.24" lengthAdjust="spacingAndGlyphs">60%</text>
<rect x="53.40" y="699.95" width="3.40" height="1.70" fill="#000"/>
<text x="30.41" y="734.10" font-size="8.4" fill="#333" stroke="#333" stroke-width="0.15" textLength="17.00" lengthAdjust="spacingAndGlyphs">40%</text>
<rect x="53.40" y="730.30" width="3.40" height="1.70" fill="#000"/>
<text x="30.17" y="764.00" font-size="8.4" fill="#333" stroke="#333" stroke-width="0.15" textLength="17.03" lengthAdjust="spacingAndGlyphs">20%</text>
<rect x="53.40" y="760.20" width="3.40" height="1.70" fill="#000"/>
<text x="30.26" y="793.75" font-size="8.4" fill="#333" stroke="#333" stroke-width="0.15" textLength="12.55" lengthAdjust="spacingAndGlyphs">0%</text>
<rect x="53.40" y="789.95" width="3.40" height="1.70" fill="#000"/>
<rect x="65.00" y="800.40" width="1.70" height="2.40" fill="#000"/>
<text x="55.55" y="811.90" font-size="8.5" fill="#111" stroke="#111" stroke-width="0.2" textLength="16.61" lengthAdjust="spacingAndGlyphs">12m</text>
<rect x="87.70" y="800.40" width="1.70" height="2.40" fill="#000"/>
<text x="78.46" y="811.90" font-size="8.5" fill="#111" stroke="#111" stroke-width="0.2" textLength="17.12" lengthAdjust="spacingAndGlyphs">31m</text>
<rect x="110.80" y="800.40" width="1.70" height="2.40" fill="#000"/>
<text x="100.80" y="811.90" font-size="8.5" fill="#111" stroke="#111" stroke-width="0.2" textLength="17.85" lengthAdjust="spacingAndGlyphs">33m</text>
<rect x="133.40" y="800.40" width="1.70" height="2.40" fill="#000"/>
<text x="123.85" y="811.90" font-size="8.5" fill="#111" stroke="#111" stroke-width="0.2" textLength="17.29" lengthAdjust="spacingAndGlyphs">40m</text>
<rect x="157.00" y="800.40" width="1.70" height="2.40" fill="#000"/>
<text x="146.75" y="811.90" font-size="8.5" fill="#111" stroke="#111" stroke-width="0.2" textLength="17.29" lengthAdjust="spacingAndGlyphs">46m</text>
<rect x="179.60" y="800.40" width="1.70" height="2.40" fill="#000"/>
<text x="169.75" y="811.90" font-size="8.5" fill="#111" stroke="#111" stroke-width="0.2" textLength="16.92" lengthAdjust="spacingAndGlyphs">54m</text>
<rect x="201.90" y="800.40" width="1.70" height="2.40" fill="#000"/>
<text x="192.76" y="811.90" font-size="8.5" fill="#111" stroke="#111" stroke-width="0.2" textLength="17.02" lengthAdjust="spacingAndGlyphs">60m</text>
<polyline points="65.8,790.0 88.5,790.6 111.6,788.9 134.2,790.5 157.8,788.7 180.4,789.6 202.7,789.6" stroke="#f5c02a" stroke-width="1.2" fill="none" stroke-linejoin="miter" stroke-opacity="0.95"/>
<polyline points="65.8,790.7 88.5,788.6 111.6,790.5 134.2,788.9 157.8,788.6 180.4,790.5 202.7,788.5" stroke="#f5c02a" stroke-width="1.2" fill="none" stroke-linejoin="miter" stroke-opacity="0.95"/>
<polyline points="65.8,790.0 88.5,787.7 111.6,789.3 134.2,788.2 157.8,790.4 180.4,788.8 202.7,789.1" stroke="#2aa198" stroke-width="1.2" fill="none" stroke-linejoin="miter" stroke-opacity="0.95"/>
<polyline points="65.8,787.5 88.5,789.8 111.6,790.3 134.2,788.6 157.8,790.7 180.4,789.5 202.7,790.7" stroke="#f08a1c" stroke-width="1.2" fill="none" stroke-linejoin="miter" stroke-opacity="0.95"/>
<polyline points="65.8,790.1 88.5,790.5 111.6,790.1 134.2,784.8 157.8,790.4 180.4,789.7 202.7,789.2" stroke="#3d7cc9" stroke-width="1.2" fill="none" stroke-linejoin="miter" stroke-opacity="0.95"/>
<polyline points="65.8,790.4 88.5,790.6 111.6,790.7 134.2,783.2 157.8,788.3 180.4,790.6 202.7,788.5" stroke="#f08a1c" stroke-width="1.2" fill="none" stroke-linejoin="miter" stroke-opacity="0.95"/>
<polyline points="65.8,790.5 88.5,789.5 111.6,789.7 134.2,790.4 157.8,789.3 180.4,790.7 202.7,786.2" stroke="#3d7cc9" stroke-width="1.2" fill="none" stroke-linejoin="miter" stroke-opacity="0.95"/>
<polyline points="65.8,789.0 88.5,785.8 111.6,788.8 134.2,790.2 157.8,790.2 180.4,790.5 202.7,790.7" stroke="#d45aa5" stroke-width="1.2" fill="none" stroke-linejoin="miter" stroke-opacity="0.95"/>
<polyline points="65.8,787.5 88.5,790.1 111.6,790.4 134.2,788.9 157.8,787.4 180.4,786.0 202.7,790.4" stroke="#3d7cc9" stroke-width="1.2" fill="none" stroke-linejoin="miter" stroke-opacity="0.95"/>
<polyline points="65.8,788.3 88.5,790.0 111.6,790.4 134.2,787.6 157.8,790.1 180.4,789.9 202.7,789.3" stroke="#9c4fc0" stroke-width="1.2" fill="none" stroke-linejoin="miter" stroke-opacity="0.95"/>
<polyline points="65.8,787.5 88.5,790.2 111.6,790.6 134.2,790.5 157.8,787.8 180.4,786.2 202.7,783.2" stroke="#d45aa5" stroke-width="1.2" fill="none" stroke-linejoin="miter" stroke-opacity="0.95"/>
<polyline points="65.8,786.5 88.5,785.5 111.6,789.5 134.2,789.5 157.8,790.4 180.4,790.1 202.7,789.2" stroke="#d9372c" stroke-width="1.2" fill="none" stroke-linejoin="miter" stroke-opacity="0.95"/>
<polyline points="65.8,790.5 88.5,790.3 111.6,790.5 134.2,788.9 157.8,789.8 180.4,783.8 202.7,787.3" stroke="#8a9a3a" stroke-width="1.2" fill="none" stroke-linejoin="miter" stroke-opacity="0.95"/>
<polyline points="65.8,790.4 88.5,788.4 111.6,790.7 134.2,787.4 157.8,787.3 180.4,788.0 202.7,789.8" stroke="#3d7cc9" stroke-width="1.2" fill="none" stroke-linejoin="miter" stroke-opacity="0.95"/>
<polyline points="65.8,790.6 88.5,790.6 111.6,788.5 134.2,786.8 157.8,790.6 180.4,790.7 202.7,785.1" stroke="#1e7b3a" stroke-width="1.2" fill="none" stroke-linejoin="miter" stroke-opacity="0.95"/>
<polyline points="65.8,786.5 88.5,790.4 111.6,790.1 134.2,789.7 157.8,789.3 180.4,790.0 202.7,790.4" stroke="#d9372c" stroke-width="1.2" fill="none" stroke-linejoin="miter" stroke-opacity="0.95"/>
<polyline points="65.8,789.3 88.5,789.4 111.6,789.7 134.2,789.4 157.8,789.0 180.4,790.4 202.7,789.8" stroke="#d9372c" stroke-width="1.2" fill="none" stroke-linejoin="miter" stroke-opacity="0.95"/>
<polyline points="65.8,787.7 88.5,790.6 111.6,788.7 134.2,789.1 157.8,790.1 180.4,789.2 202.7,785.3" stroke="#8a9a3a" stroke-width="1.2" fill="none" stroke-linejoin="miter" stroke-opacity="0.95"/>
<polyline points="65.8,788.8 88.5,790.5 111.6,787.1 134.2,789.4 157.8,788.9 180.4,787.4 202.7,790.3" stroke="#2aa198" stroke-width="1.2" fill="none" stroke-linejoin="miter" stroke-opacity="0.95"/>
<polyline points="65.8,788.6 88.5,790.5 111.6,789.2 134.2,789.3 157.8,785.6 180.4,789.9 202.7,790.3" stroke="#2aa198" stroke-width="1.2" fill="none" stroke-linejoin="miter" stroke-opacity="0.95"/>
<polyline points="65.8,789.8 88.5,790.5 111.6,790.4 134.2,786.8 157.8,789.3 180.4,790.5 202.7,787.2" stroke="#f08a1c" stroke-width="1.2" fill="none" stroke-linejoin="miter" stroke-opacity="0.95"/>
<polyline points="65.8,788.9 88.5,790.4 111.6,788.8 134.2,788.5 157.8,790.3 180.4,789.6 202.7,789.3" stroke="#4cae4c" stroke-width="1.2" fill="none" stroke-linejoin="miter" stroke-opacity="0.95"/>
<polyline points="65.8,788.4 88.5,786.4 111.6,789.2 134.2,787.3 157.8,788.7 180.4,787.8 202.7,790.5" stroke="#b5462c" stroke-width="1.2" fill="none" stroke-linejoin="miter" stroke-opacity="0.95"/>
<polyline points="65.8,789.3 88.5,788.5 111.6,788.2 134.2,790.5 157.8,783.2 180.4,788.4 202.7,790.6" stroke="#d45aa5" stroke-width="1.2" fill="none" stroke-linejoin="miter" stroke-opacity="0.95"/>
<polyline points="65.8,789.3 88.5,784.6 111.6,790.4 134.2,789.6 157.8,790.6 180.4,789.9 202.7,789.0" stroke="#d45aa5" stroke-width="1.2" fill="none" stroke-linejoin="miter" stroke-opacity="0.95"/>
<polyline points="65.8,790.3 88.5,789.9 111.6,790.7 134.2,789.1 157.8,790.3 180.4,790.1 202.7,788.5" stroke="#e98cb8" stroke-width="1.2" fill="none" stroke-linejoin="miter" stroke-opacity="0.95"/>
<polyline points="65.8,786.4 88.5,790.6 111.6,783.2 134.2,790.3 157.8,790.5 180.4,788.4 202.7,790.0" stroke="#9c4fc0" stroke-width="1.2" fill="none" stroke-linejoin="miter" stroke-opacity="0.95"/>
<polyline points="65.8,788.3 88.5,790.0 111.6,788.2 134.2,788.7 157.8,787.6 180.4,790.5 202.7,789.9" stroke="#b5462c" stroke-width="1.2" fill="none" stroke-linejoin="miter" stroke-opacity="0.95"/>
<polyline points="65.8,785.4 88.5,788.4 111.6,790.7 134.2,789.1 157.8,790.6 180.4,789.3 202.7,787.8" stroke="#4cae4c" stroke-width="1.2" fill="none" stroke-linejoin="miter" stroke-opacity="0.95"/>
<polyline points="65.8,790.7 88.5,786.4 111.6,790.3 134.2,790.0 157.8,788.6 180.4,790.7 202.7,783.2" stroke="#2aa198" stroke-width="1.2" fill="none" stroke-linejoin="miter" stroke-opacity="0.95"/>
<polyline points="65.8,786.0 88.5,778.2 111.6,790.0 134.2,789.0 157.8,789.0 180.4,789.0 202.7,788.0" stroke="#5bb85a" stroke-width="1.2" fill="none" stroke-linejoin="miter"/>
<polyline points="65.8,788.0 88.5,790.0 111.6,782.0 134.2,788.0 157.8,786.0 180.4,787.0 202.7,786.0" stroke="#e23b2e" stroke-width="1.2" fill="none" stroke-linejoin="miter"/>
<polyline points="65.8,790.0 88.5,790.0 111.6,790.0 134.2,782.5 157.8,786.0 180.4,788.0 202.7,787.0" stroke="#3d7cc9" stroke-width="1.2" fill="none" stroke-linejoin="miter"/>
<polyline points="65.8,789.0 88.5,789.0 111.6,789.0 134.2,778.8 157.8,781.2 180.4,786.0 202.7,775.5" stroke="#e23b2e" stroke-width="1.2" fill="none" stroke-linejoin="miter"/>
<polyline points="65.8,789.0 88.5,789.0 111.6,789.0 134.2,787.0 157.8,783.0 180.4,785.0 202.7,771.2" stroke="#d9372c" stroke-width="1.2" fill="none" stroke-linejoin="miter"/>
<polyline points="65.8,789.0 88.5,789.0 111.6,789.0 134.2,788.0 157.8,787.0 180.4,786.0 202.7,784.5" stroke="#9c4fc0" stroke-width="1.2" fill="none" stroke-linejoin="miter"/>
<polyline points="65.8,787.0 88.5,789.0 111.6,658.0 134.2,789.0 157.8,788.0 180.4,789.0 202.7,789.0" stroke="#e23b2e" stroke-width="1.3" fill="none" stroke-linejoin="miter"/>
<polyline points="65.8,790.5 88.5,790.5 111.6,790.5 134.2,790.5 157.8,790.5 180.4,790.5 202.7,790.5" stroke="#4cae4c" stroke-width="1.8" fill="none" stroke-linejoin="miter"/>
<text x="77.14" y="664.65" font-size="8.7" fill="#2a2a2a" stroke="#2a2a2a" stroke-width="0.25" textLength="22.07" lengthAdjust="spacingAndGlyphs">LMO2</text>
<text x="101.90" y="660.10" font-size="5.9" fill="#222" font-weight="bold" textLength="6.01" lengthAdjust="spacingAndGlyphs">IN</text>
<text x="50.97" y="773.75" font-size="8.7" fill="#2a2a2a" stroke="#2a2a2a" stroke-width="0.25" textLength="24.70" lengthAdjust="spacingAndGlyphs">BCAT1</text>
<text x="78.21" y="768.80" font-size="5.9" fill="#222" font-weight="bold" textLength="7.39" lengthAdjust="spacingAndGlyphs">IN</text>
<text x="93.45" y="773.75" font-size="8.7" fill="#2a2a2a" stroke="#2a2a2a" stroke-width="0.25" textLength="25.89" lengthAdjust="spacingAndGlyphs">SPAG6</text>
<text x="123.37" y="768.80" font-size="5.9" fill="#222" font-weight="bold" textLength="4.97" lengthAdjust="spacingAndGlyphs">IN</text>
<text x="129.56" y="774.05" font-size="8.7" fill="#2a2a2a" stroke="#2a2a2a" stroke-width="0.25" textLength="21.83" lengthAdjust="spacingAndGlyphs">MDS1</text>
<text x="152.60" y="768.60" font-size="5.9" fill="#222" font-weight="bold" textLength="6.01" lengthAdjust="spacingAndGlyphs">IN</text>
<text x="129.78" y="744.85" font-size="8.7" fill="#2a2a2a" stroke="#2a2a2a" stroke-width="0.25" textLength="37.97" lengthAdjust="spacingAndGlyphs">AK055803</text>
<text x="171.71" y="739.90" font-size="5.9" fill="#222" font-weight="bold" textLength="8.41" lengthAdjust="spacingAndGlyphs">NR</text>
<text x="130.02" y="761.95" font-size="8.7" fill="#2a2a2a" stroke="#2a2a2a" stroke-width="0.25" textLength="30.75" lengthAdjust="spacingAndGlyphs">TADA3L</text>
<text x="164.00" y="756.30" font-size="5.9" fill="#222" font-weight="bold" textLength="6.01" lengthAdjust="spacingAndGlyphs">IN</text>
<text x="179.61" y="760.85" font-size="8.7" fill="#2a2a2a" stroke="#2a2a2a" stroke-width="0.25" textLength="34.38" lengthAdjust="spacingAndGlyphs">CREB3L2</text>
<text x="221.58" y="754.60" font-size="5.9" fill="#222" font-weight="bold" textLength="6.35" lengthAdjust="spacingAndGlyphs">IN</text>
<line x1="100.20" y1="664.80" x2="106.52" y2="669.87" stroke="#000" stroke-width="1.4"/>
<polygon points="109.80,672.50 105.21,671.51 107.84,668.23" fill="#000"/>
<line x1="75.80" y1="774.90" x2="78.68" y2="778.52" stroke="#000" stroke-width="1.4"/>
<polygon points="81.30,781.80 77.04,779.82 80.32,777.21" fill="#000"/>
<line x1="104.70" y1="774.00" x2="107.40" y2="779.00" stroke="#000" stroke-width="1.4"/>
<polygon points="109.40,782.70 105.56,780.00 109.25,778.01" fill="#000"/>
<line x1="151.00" y1="774.60" x2="154.13" y2="777.94" stroke="#000" stroke-width="1.4"/>
<polygon points="157.00,781.00 152.60,779.37 155.66,776.50" fill="#000"/>
<line x1="167.40" y1="745.20" x2="191.40" y2="777.62" stroke="#000" stroke-width="1.4"/>
<polygon points="193.90,781.00 189.71,778.87 193.09,776.37" fill="#000"/>
<line x1="166.20" y1="760.30" x2="187.46" y2="782.00" stroke="#000" stroke-width="1.4"/>
<polygon points="190.40,785.00 185.96,783.47 188.96,780.53" fill="#000"/>
<line x1="195.60" y1="761.10" x2="200.36" y2="767.36" stroke="#000" stroke-width="1.4"/>
<polygon points="202.90,770.70 198.69,768.63 202.03,766.09" fill="#000"/>
<text x="264.40" y="642.60" font-size="19.5" fill="#000" font-weight="bold" textLength="15.11" lengthAdjust="spacingAndGlyphs">H</text>
<defs><clipPath id="cp1"><ellipse cx="304.0" cy="675.0" rx="22.0" ry="14.3"/></clipPath></defs>
<ellipse cx="304.0" cy="675.0" rx="22.0" ry="14.3" fill="#c8edf8"/>
<ellipse cx="327.2" cy="675.0" rx="22.0" ry="14.3" fill="#d4eed4"/>
<ellipse cx="327.2" cy="675.0" rx="22.0" ry="14.3" fill="#93d5bc" clip-path="url(#cp1)"/>
<ellipse cx="304.0" cy="675.0" rx="22.0" ry="14.3" fill="none" stroke="#111" stroke-width="2"/>
<ellipse cx="327.2" cy="675.0" rx="22.0" ry="14.3" fill="none" stroke="#111" stroke-width="2"/>
<text x="311.22" y="645.90" font-size="12.6" fill="#111" stroke="#111" stroke-width="0.1" textLength="13.47" lengthAdjust="spacingAndGlyphs">p1</text>
<text x="295.93" y="658.00" font-size="8.1" fill="#111" stroke="#111" stroke-width="0.15" textLength="15.76" lengthAdjust="spacingAndGlyphs">32m</text>
<text x="320.61" y="658.00" font-size="8.1" fill="#111" stroke="#111" stroke-width="0.15" textLength="15.76" lengthAdjust="spacingAndGlyphs">81m</text>
<text x="287.41" y="677.80" font-size="7.9" fill="#1a2a2a" stroke="#1a2a2a" stroke-width="0.3" textLength="13.18" lengthAdjust="spacingAndGlyphs">949</text>
<text x="308.88" y="677.80" font-size="7.9" fill="#1a2a2a" stroke="#1a2a2a" stroke-width="0.3" textLength="13.18" lengthAdjust="spacingAndGlyphs">146</text>
<text x="330.50" y="677.80" font-size="7.9" fill="#1a2a2a" stroke="#1a2a2a" stroke-width="0.3" textLength="13.18" lengthAdjust="spacingAndGlyphs">199</text>
<defs><clipPath id="cp2"><ellipse cx="388.3" cy="675.4" rx="22.0" ry="14.3"/></clipPath></defs>
<ellipse cx="388.3" cy="675.4" rx="22.0" ry="14.3" fill="#c8edf8"/>
<ellipse cx="411.5" cy="675.4" rx="22.0" ry="14.3" fill="#d4eed4"/>
<ellipse cx="411.5" cy="675.4" rx="22.0" ry="14.3" fill="#93d5bc" clip-path="url(#cp2)"/>
<ellipse cx="388.3" cy="675.4" rx="22.0" ry="14.3" fill="none" stroke="#111" stroke-width="2"/>
<ellipse cx="411.5" cy="675.4" rx="22.0" ry="14.3" fill="none" stroke="#111" stroke-width="2"/>
<text x="394.15" y="645.90" font-size="12.6" fill="#111" stroke="#111" stroke-width="0.1" textLength="14.72" lengthAdjust="spacingAndGlyphs">p2</text>
<text x="380.23" y="658.00" font-size="8.1" fill="#111" stroke="#111" stroke-width="0.15" textLength="15.76" lengthAdjust="spacingAndGlyphs">32m</text>
<text x="402.53" y="658.00" font-size="8.1" fill="#111" stroke="#111" stroke-width="0.15" textLength="20.26" lengthAdjust="spacingAndGlyphs">102m</text>
<text x="371.67" y="678.20" font-size="7.9" fill="#1a2a2a" stroke="#1a2a2a" stroke-width="0.3" textLength="13.18" lengthAdjust="spacingAndGlyphs">394</text>
<text x="393.27" y="678.20" font-size="7.9" fill="#1a2a2a" stroke="#1a2a2a" stroke-width="0.3" textLength="13.18" lengthAdjust="spacingAndGlyphs">344</text>
<text x="414.93" y="678.20" font-size="7.9" fill="#1a2a2a" stroke="#1a2a2a" stroke-width="0.3" textLength="13.18" lengthAdjust="spacingAndGlyphs">376</text>
<defs><clipPath id="cp5"><ellipse cx="471.2" cy="675.1" rx="22.0" ry="14.3"/></clipPath></defs>
<ellipse cx="471.2" cy="675.1" rx="22.0" ry="14.3" fill="#c8edf8"/>
<ellipse cx="494.4" cy="675.1" rx="22.0" ry="14.3" fill="#d4eed4"/>
<ellipse cx="494.4" cy="675.1" rx="22.0" ry="14.3" fill="#93d5bc" clip-path="url(#cp5)"/>
<ellipse cx="471.2" cy="675.1" rx="22.0" ry="14.3" fill="none" stroke="#111" stroke-width="2"/>
<ellipse cx="494.4" cy="675.1" rx="22.0" ry="14.3" fill="none" stroke="#111" stroke-width="2"/>
<text x="479.43" y="645.90" font-size="12.6" fill="#111" stroke="#111" stroke-width="0.1" textLength="14.93" lengthAdjust="spacingAndGlyphs">p5</text>
<text x="462.98" y="658.00" font-size="8.1" fill="#111" stroke="#111" stroke-width="0.15" textLength="15.76" lengthAdjust="spacingAndGlyphs">19m</text>
<text x="487.83" y="658.00" font-size="8.1" fill="#111" stroke="#111" stroke-width="0.15" textLength="15.76" lengthAdjust="spacingAndGlyphs">59m</text>
<text x="454.47" y="677.90" font-size="7.9" fill="#1a2a2a" stroke="#1a2a2a" stroke-width="0.3" textLength="13.18" lengthAdjust="spacingAndGlyphs">155</text>
<text x="478.38" y="677.90" font-size="7.9" fill="#1a2a2a" stroke="#1a2a2a" stroke-width="0.3" textLength="8.79" lengthAdjust="spacingAndGlyphs">28</text>
<text x="497.66" y="677.90" font-size="7.9" fill="#1a2a2a" stroke="#1a2a2a" stroke-width="0.3" textLength="13.18" lengthAdjust="spacingAndGlyphs">160</text>
<defs><clipPath id="cp6"><ellipse cx="307.8" cy="739.5" rx="22.0" ry="14.3"/></clipPath></defs>
<ellipse cx="307.8" cy="739.5" rx="22.0" ry="14.3" fill="#c8edf8"/>
<ellipse cx="331.0" cy="739.5" rx="22.0" ry="14.3" fill="#d4eed4"/>
<ellipse cx="331.0" cy="739.5" rx="22.0" ry="14.3" fill="#93d5bc" clip-path="url(#cp6)"/>
<ellipse cx="307.8" cy="739.5" rx="22.0" ry="14.3" fill="none" stroke="#111" stroke-width="2"/>
<ellipse cx="331.0" cy="739.5" rx="22.0" ry="14.3" fill="none" stroke="#111" stroke-width="2"/>
<text x="311.45" y="707.80" font-size="12.6" fill="#111" stroke="#111" stroke-width="0.1" textLength="14.63" lengthAdjust="spacingAndGlyphs">p6</text>
<text x="299.80" y="723.20" font-size="8.1" fill="#111" stroke="#111" stroke-width="0.15" textLength="15.76" lengthAdjust="spacingAndGlyphs">46m</text>
<text x="324.38" y="723.20" font-size="8.1" fill="#111" stroke="#111" stroke-width="0.15" textLength="15.76" lengthAdjust="spacingAndGlyphs">66m</text>
<text x="291.20" y="742.30" font-size="7.9" fill="#1a2a2a" stroke="#1a2a2a" stroke-width="0.3" textLength="13.18" lengthAdjust="spacingAndGlyphs">231</text>
<text x="314.92" y="742.30" font-size="7.9" fill="#1a2a2a" stroke="#1a2a2a" stroke-width="0.3" textLength="8.79" lengthAdjust="spacingAndGlyphs">24</text>
<text x="336.61" y="742.30" font-size="7.9" fill="#1a2a2a" stroke="#1a2a2a" stroke-width="0.3" textLength="8.79" lengthAdjust="spacingAndGlyphs">22</text>
<defs><clipPath id="cp7"><ellipse cx="388.8" cy="739.5" rx="22.0" ry="14.3"/></clipPath></defs>
<ellipse cx="388.8" cy="739.5" rx="22.0" ry="14.3" fill="#c8edf8"/>
<ellipse cx="412.0" cy="739.5" rx="22.0" ry="14.3" fill="#d4eed4"/>
<ellipse cx="412.0" cy="739.5" rx="22.0" ry="14.3" fill="#93d5bc" clip-path="url(#cp7)"/>
<ellipse cx="388.8" cy="739.5" rx="22.0" ry="14.3" fill="none" stroke="#111" stroke-width="2"/>
<ellipse cx="412.0" cy="739.5" rx="22.0" ry="14.3" fill="none" stroke="#111" stroke-width="2"/>
<text x="394.81" y="707.80" font-size="12.6" fill="#111" stroke="#111" stroke-width="0.1" textLength="15.39" lengthAdjust="spacingAndGlyphs">p7</text>
<text x="380.73" y="723.20" font-size="8.1" fill="#111" stroke="#111" stroke-width="0.15" textLength="15.76" lengthAdjust="spacingAndGlyphs">56m</text>
<text x="405.38" y="723.20" font-size="8.1" fill="#111" stroke="#111" stroke-width="0.15" textLength="15.76" lengthAdjust="spacingAndGlyphs">69m</text>
<text x="374.42" y="742.30" font-size="7.9" fill="#1a2a2a" stroke="#1a2a2a" stroke-width="0.3" textLength="8.79" lengthAdjust="spacingAndGlyphs">53</text>
<text x="396.03" y="742.30" font-size="7.9" fill="#1a2a2a" stroke="#1a2a2a" stroke-width="0.3" textLength="8.79" lengthAdjust="spacingAndGlyphs">44</text>
<text x="415.28" y="742.30" font-size="7.9" fill="#1a2a2a" stroke="#1a2a2a" stroke-width="0.3" textLength="13.18" lengthAdjust="spacingAndGlyphs">166</text>
<defs><clipPath id="cp8"><ellipse cx="472.9" cy="739.8" rx="22.0" ry="14.3"/></clipPath></defs>
<ellipse cx="472.9" cy="739.8" rx="22.0" ry="14.3" fill="#c8edf8"/>
<ellipse cx="496.09999999999997" cy="739.8" rx="22.0" ry="14.3" fill="#d4eed4"/>
<ellipse cx="496.09999999999997" cy="739.8" rx="22.0" ry="14.3" fill="#93d5bc" clip-path="url(#cp8)"/>
<ellipse cx="472.9" cy="739.8" rx="22.0" ry="14.3" fill="none" stroke="#111" stroke-width="2"/>
<ellipse cx="496.09999999999997" cy="739.8" rx="22.0" ry="14.3" fill="none" stroke="#111" stroke-width="2"/>
<text x="479.96" y="707.80" font-size="12.6" fill="#111" stroke="#111" stroke-width="0.1" textLength="14.51" lengthAdjust="spacingAndGlyphs">p8</text>
<text x="464.68" y="723.20" font-size="8.1" fill="#111" stroke="#111" stroke-width="0.15" textLength="15.76" lengthAdjust="spacingAndGlyphs">16m</text>
<text x="489.48" y="723.20" font-size="8.1" fill="#111" stroke="#111" stroke-width="0.15" textLength="15.76" lengthAdjust="spacingAndGlyphs">73m</text>
<text x="454.00" y="742.60" font-size="7.9" fill="#1a2a2a" stroke="#1a2a2a" stroke-width="0.3" textLength="17.57" lengthAdjust="spacingAndGlyphs">1631</text>
<text x="477.96" y="742.60" font-size="7.9" fill="#1a2a2a" stroke="#1a2a2a" stroke-width="0.3" textLength="13.18" lengthAdjust="spacingAndGlyphs">392</text>
<text x="497.19" y="742.60" font-size="7.9" fill="#1a2a2a" stroke="#1a2a2a" stroke-width="0.3" textLength="17.57" lengthAdjust="spacingAndGlyphs">1453</text>
<defs><clipPath id="cp10"><ellipse cx="304.9" cy="802.0" rx="22.0" ry="14.3"/></clipPath></defs>
<ellipse cx="304.9" cy="802.0" rx="22.0" ry="14.3" fill="#c8edf8"/>
<ellipse cx="328.09999999999997" cy="802.0" rx="22.0" ry="14.3" fill="#d4eed4"/>
<ellipse cx="328.09999999999997" cy="802.0" rx="22.0" ry="14.3" fill="#93d5bc" clip-path="url(#cp10)"/>
<ellipse cx="304.9" cy="802.0" rx="22.0" ry="14.3" fill="none" stroke="#111" stroke-width="2"/>
<ellipse cx="328.09999999999997" cy="802.0" rx="22.0" ry="14.3" fill="none" stroke="#111" stroke-width="2"/>
<text x="308.24" y="773.80" font-size="12.6" fill="#111" stroke="#111" stroke-width="0.1" textLength="22.28" lengthAdjust="spacingAndGlyphs">p10</text>
<text x="296.68" y="784.50" font-size="8.1" fill="#111" stroke="#111" stroke-width="0.15" textLength="15.76" lengthAdjust="spacingAndGlyphs">12m</text>
<text x="321.53" y="784.50" font-size="8.1" fill="#111" stroke="#111" stroke-width="0.15" textLength="15.76" lengthAdjust="spacingAndGlyphs">54m</text>
<text x="288.35" y="804.80" font-size="7.9" fill="#1a2a2a" stroke="#1a2a2a" stroke-width="0.3" textLength="13.18" lengthAdjust="spacingAndGlyphs">391</text>
<text x="309.77" y="804.80" font-size="7.9" fill="#1a2a2a" stroke="#1a2a2a" stroke-width="0.3" textLength="13.18" lengthAdjust="spacingAndGlyphs">195</text>
<text x="331.48" y="804.80" font-size="7.9" fill="#1a2a2a" stroke="#1a2a2a" stroke-width="0.3" textLength="13.18" lengthAdjust="spacingAndGlyphs">276</text>
</svg>
</body></html>
